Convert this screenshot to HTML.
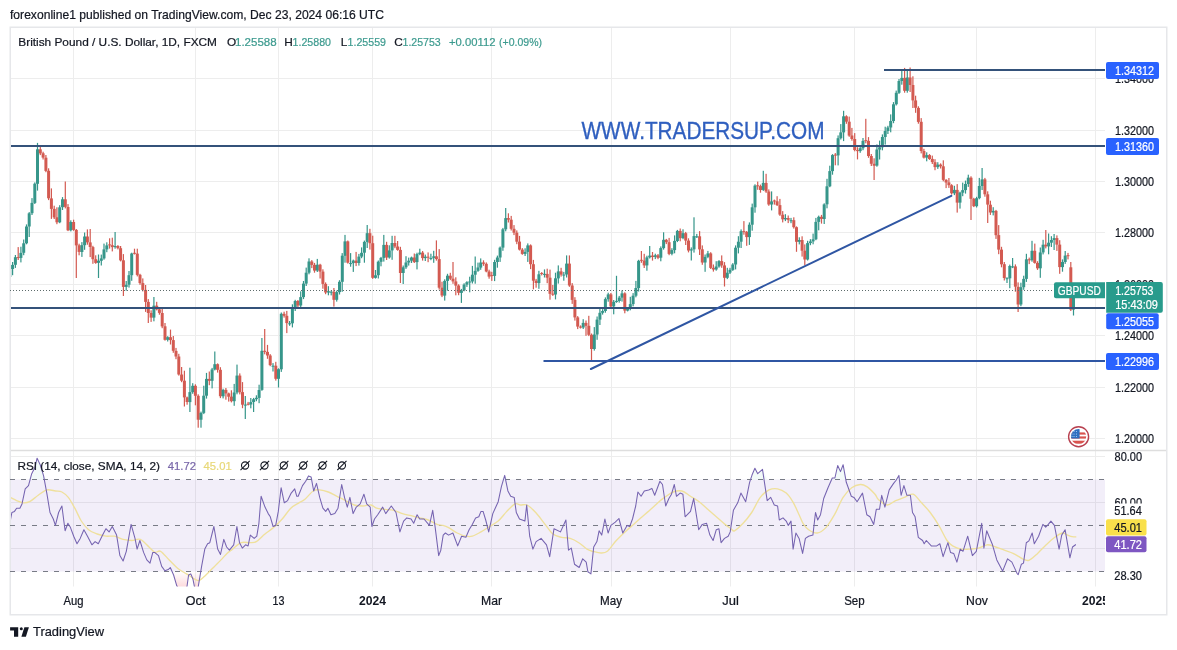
<!DOCTYPE html><html><head><meta charset="utf-8"><style>html,body{margin:0;padding:0;background:#fff;width:1177px;height:650px;overflow:hidden;position:relative}svg text{font-family:"Liberation Sans",sans-serif}</style></head><body><svg width="1177" height="650" viewBox="0 0 1177 650" style="position:absolute;left:0;top:0;filter:blur(0.3px)"><defs><clipPath id="cp"><rect x="11" y="28" width="1094" height="422"/></clipPath><clipPath id="cr"><rect x="11" y="451" width="1094" height="135.5"/></clipPath><linearGradient id="gos" x1="0" y1="0" x2="0" y2="1"><stop offset="0" stop-color="#f23645" stop-opacity="0"/><stop offset="1" stop-color="#f23645" stop-opacity="0.22"/></linearGradient><linearGradient id="gob" x1="0" y1="1" x2="0" y2="0"><stop offset="0" stop-color="#089981" stop-opacity="0"/><stop offset="1" stop-color="#089981" stop-opacity="0.12"/></linearGradient></defs><text x="10" y="18.5" font-size="12.6" fill="#131722" textLength="374" lengthAdjust="spacingAndGlyphs" stroke="#131722" stroke-width="0.22">forexonline1 published on TradingView.com, Dec 23, 2024 06:16 UTC</text><rect x="10.25" y="27.25" width="1156.5" height="587.5" fill="#fff" stroke="#e6e7ea" stroke-width="1.5"/><line x1="73.5" y1="28" x2="73.5" y2="586.5" stroke="#ededed" stroke-width="1"/><line x1="195.5" y1="28" x2="195.5" y2="586.5" stroke="#ededed" stroke-width="1"/><line x1="278.5" y1="28" x2="278.5" y2="586.5" stroke="#ededed" stroke-width="1"/><line x1="372.5" y1="28" x2="372.5" y2="586.5" stroke="#ededed" stroke-width="1"/><line x1="491.5" y1="28" x2="491.5" y2="586.5" stroke="#ededed" stroke-width="1"/><line x1="611.5" y1="28" x2="611.5" y2="586.5" stroke="#ededed" stroke-width="1"/><line x1="730.5" y1="28" x2="730.5" y2="586.5" stroke="#ededed" stroke-width="1"/><line x1="854.5" y1="28" x2="854.5" y2="586.5" stroke="#ededed" stroke-width="1"/><line x1="976.5" y1="28" x2="976.5" y2="586.5" stroke="#ededed" stroke-width="1"/><line x1="1095.5" y1="28" x2="1095.5" y2="586.5" stroke="#ededed" stroke-width="1"/><line x1="11" y1="78.5" x2="1105" y2="78.5" stroke="#ededed" stroke-width="1"/><line x1="11" y1="130.5" x2="1105" y2="130.5" stroke="#ededed" stroke-width="1"/><line x1="11" y1="181.5" x2="1105" y2="181.5" stroke="#ededed" stroke-width="1"/><line x1="11" y1="232.5" x2="1105" y2="232.5" stroke="#ededed" stroke-width="1"/><line x1="11" y1="284.5" x2="1105" y2="284.5" stroke="#ededed" stroke-width="1"/><line x1="11" y1="335.5" x2="1105" y2="335.5" stroke="#ededed" stroke-width="1"/><line x1="11" y1="387.5" x2="1105" y2="387.5" stroke="#ededed" stroke-width="1"/><line x1="11" y1="438.5" x2="1105" y2="438.5" stroke="#ededed" stroke-width="1"/><line x1="11" y1="450.5" x2="1166" y2="450.5" stroke="#dedede" stroke-width="1.5"/><g clip-path="url(#cp)"><rect x="9.2" y="263.1" width="1.2" height="20.9" fill="#36968a"/><rect x="8.3" y="269" width="3" height="8" fill="#36968a"/><rect x="12" y="262" width="1.2" height="13.2" fill="#36968a"/><rect x="11.1" y="264.9" width="3" height="4.1" fill="#36968a"/><rect x="14.8" y="255" width="1.2" height="12.9" fill="#36968a"/><rect x="13.9" y="257.2" width="3" height="7.6" fill="#36968a"/><rect x="17.6" y="247.1" width="1.2" height="12.9" fill="#d35a51"/><rect x="16.7" y="257.1" width="3" height="1" fill="#d35a51"/><rect x="20.3" y="246.7" width="1.2" height="15.7" fill="#36968a"/><rect x="19.4" y="252.9" width="3" height="5" fill="#36968a"/><rect x="23.1" y="239.5" width="1.2" height="15.7" fill="#36968a"/><rect x="22.2" y="243.3" width="3" height="9.5" fill="#36968a"/><rect x="25.9" y="224.4" width="1.2" height="19.9" fill="#36968a"/><rect x="25" y="226.5" width="3" height="16.8" fill="#36968a"/><rect x="28.6" y="212.1" width="1.2" height="24.9" fill="#36968a"/><rect x="27.7" y="213.3" width="3" height="13.2" fill="#36968a"/><rect x="31.4" y="198.1" width="1.2" height="16.9" fill="#36968a"/><rect x="30.5" y="202.9" width="3" height="10.3" fill="#36968a"/><rect x="34.2" y="182.4" width="1.2" height="21.6" fill="#36968a"/><rect x="33.3" y="183.7" width="3" height="19.2" fill="#36968a"/><rect x="36.9" y="142.9" width="1.2" height="47.7" fill="#36968a"/><rect x="36" y="149.3" width="3" height="34.5" fill="#36968a"/><rect x="39.7" y="145.1" width="1.2" height="10" fill="#d35a51"/><rect x="38.8" y="149.3" width="3" height="4.1" fill="#d35a51"/><rect x="42.5" y="151.7" width="1.2" height="7.8" fill="#d35a51"/><rect x="41.6" y="153.3" width="3" height="4.3" fill="#d35a51"/><rect x="45.3" y="155" width="1.2" height="17.2" fill="#d35a51"/><rect x="44.4" y="157.7" width="3" height="13.2" fill="#d35a51"/><rect x="48" y="168.3" width="1.2" height="31.8" fill="#d35a51"/><rect x="47.1" y="170.8" width="3" height="27.5" fill="#d35a51"/><rect x="50.8" y="188.4" width="1.2" height="30.5" fill="#d35a51"/><rect x="49.9" y="198.4" width="3" height="10.5" fill="#d35a51"/><rect x="53.6" y="205.7" width="1.2" height="13.3" fill="#d35a51"/><rect x="52.7" y="208.9" width="3" height="8.5" fill="#d35a51"/><rect x="56.3" y="207.3" width="1.2" height="16.9" fill="#d35a51"/><rect x="55.4" y="217.3" width="3" height="5" fill="#d35a51"/><rect x="59.1" y="205.2" width="1.2" height="18" fill="#36968a"/><rect x="58.2" y="207.3" width="3" height="15" fill="#36968a"/><rect x="61.9" y="197.1" width="1.2" height="12.9" fill="#36968a"/><rect x="61" y="199.3" width="3" height="7.9" fill="#36968a"/><rect x="64.7" y="181.5" width="1.2" height="26.9" fill="#d35a51"/><rect x="63.8" y="199.3" width="3" height="7.6" fill="#d35a51"/><rect x="67.4" y="204.1" width="1.2" height="27" fill="#d35a51"/><rect x="66.5" y="207" width="3" height="23.3" fill="#d35a51"/><rect x="70.2" y="220.3" width="1.2" height="11.1" fill="#36968a"/><rect x="69.3" y="222" width="3" height="8.3" fill="#36968a"/><rect x="73" y="219.7" width="1.2" height="11.1" fill="#d35a51"/><rect x="72.1" y="222" width="3" height="7.9" fill="#d35a51"/><rect x="75.7" y="229" width="1.2" height="49" fill="#d35a51"/><rect x="74.8" y="229.9" width="3" height="15.5" fill="#d35a51"/><rect x="78.5" y="243.7" width="1.2" height="11.6" fill="#d35a51"/><rect x="77.6" y="245.3" width="3" height="6.6" fill="#d35a51"/><rect x="81.3" y="242.1" width="1.2" height="14.8" fill="#36968a"/><rect x="80.4" y="245.2" width="3" height="6.8" fill="#36968a"/><rect x="84" y="232.5" width="1.2" height="17.3" fill="#36968a"/><rect x="83.1" y="236.5" width="3" height="8.7" fill="#36968a"/><rect x="86.8" y="229.4" width="1.2" height="15.3" fill="#d35a51"/><rect x="85.9" y="236.5" width="3" height="5.9" fill="#d35a51"/><rect x="89.6" y="229" width="1.2" height="28.1" fill="#d35a51"/><rect x="88.7" y="242.4" width="3" height="4.6" fill="#d35a51"/><rect x="92.3" y="245.8" width="1.2" height="18" fill="#d35a51"/><rect x="91.4" y="247.1" width="3" height="12.1" fill="#d35a51"/><rect x="95.1" y="255.3" width="1.2" height="8.5" fill="#d35a51"/><rect x="94.2" y="259.2" width="3" height="3.7" fill="#d35a51"/><rect x="97.9" y="254.5" width="1.2" height="23.5" fill="#36968a"/><rect x="97" y="260.7" width="3" height="2.1" fill="#36968a"/><rect x="100.7" y="254.6" width="1.2" height="10.9" fill="#36968a"/><rect x="99.8" y="258.4" width="3" height="2.4" fill="#36968a"/><rect x="103.4" y="243.6" width="1.2" height="16.1" fill="#36968a"/><rect x="102.5" y="249.4" width="3" height="9" fill="#36968a"/><rect x="106.2" y="242.3" width="1.2" height="9.9" fill="#36968a"/><rect x="105.3" y="245.4" width="3" height="4" fill="#36968a"/><rect x="109" y="238.3" width="1.2" height="10.3" fill="#d35a51"/><rect x="108.1" y="244.4" width="3" height="1" fill="#d35a51"/><rect x="111.7" y="237.7" width="1.2" height="13.7" fill="#d35a51"/><rect x="110.8" y="245.2" width="3" height="1.9" fill="#d35a51"/><rect x="114.5" y="232" width="1.2" height="16.7" fill="#36968a"/><rect x="113.6" y="246" width="3" height="1.1" fill="#36968a"/><rect x="117.3" y="245.1" width="1.2" height="4.3" fill="#d35a51"/><rect x="116.4" y="246" width="3" height="2.2" fill="#d35a51"/><rect x="120" y="246" width="1.2" height="15.4" fill="#d35a51"/><rect x="119.1" y="248.2" width="3" height="12.2" fill="#d35a51"/><rect x="122.8" y="254.1" width="1.2" height="41.9" fill="#d35a51"/><rect x="121.9" y="260.3" width="3" height="26.6" fill="#d35a51"/><rect x="125.6" y="281" width="1.2" height="9.7" fill="#36968a"/><rect x="124.7" y="284.8" width="3" height="2.1" fill="#36968a"/><rect x="128.4" y="271" width="1.2" height="16.6" fill="#36968a"/><rect x="127.5" y="275.2" width="3" height="9.5" fill="#36968a"/><rect x="131.1" y="252.7" width="1.2" height="28.1" fill="#36968a"/><rect x="130.2" y="253.5" width="3" height="21.7" fill="#36968a"/><rect x="133.9" y="248.7" width="1.2" height="5.8" fill="#d35a51"/><rect x="133" y="252.8" width="3" height="1" fill="#d35a51"/><rect x="136.7" y="248.7" width="1.2" height="27.7" fill="#d35a51"/><rect x="135.8" y="253.6" width="3" height="21.3" fill="#d35a51"/><rect x="139.4" y="273.8" width="1.2" height="11" fill="#d35a51"/><rect x="138.5" y="274.8" width="3" height="8.3" fill="#d35a51"/><rect x="142.2" y="278.4" width="1.2" height="13" fill="#d35a51"/><rect x="141.3" y="283.1" width="3" height="6.8" fill="#d35a51"/><rect x="145" y="285" width="1.2" height="26.9" fill="#d35a51"/><rect x="144.1" y="289.9" width="3" height="12" fill="#d35a51"/><rect x="147.7" y="299.1" width="1.2" height="23.9" fill="#d35a51"/><rect x="146.8" y="301.9" width="3" height="11.1" fill="#d35a51"/><rect x="150.5" y="310.3" width="1.2" height="11.6" fill="#d35a51"/><rect x="149.6" y="313" width="3" height="4.6" fill="#d35a51"/><rect x="153.3" y="297" width="1.2" height="24.3" fill="#36968a"/><rect x="152.4" y="305.7" width="3" height="11.9" fill="#36968a"/><rect x="156.1" y="301.8" width="1.2" height="8.6" fill="#d35a51"/><rect x="155.2" y="305.7" width="3" height="3.7" fill="#d35a51"/><rect x="158.8" y="308.1" width="1.2" height="6.6" fill="#d35a51"/><rect x="157.9" y="309.3" width="3" height="3.6" fill="#d35a51"/><rect x="161.6" y="308.1" width="1.2" height="20.1" fill="#d35a51"/><rect x="160.7" y="313" width="3" height="13.4" fill="#d35a51"/><rect x="164.4" y="323" width="1.2" height="17.6" fill="#d35a51"/><rect x="163.5" y="326.3" width="3" height="13.5" fill="#d35a51"/><rect x="167.1" y="336.2" width="1.2" height="5.3" fill="#36968a"/><rect x="166.2" y="337.2" width="3" height="2.6" fill="#36968a"/><rect x="169.9" y="329.6" width="1.2" height="14.9" fill="#d35a51"/><rect x="169" y="337.2" width="3" height="2.9" fill="#d35a51"/><rect x="172.7" y="336" width="1.2" height="16.8" fill="#d35a51"/><rect x="171.8" y="340.1" width="3" height="10.7" fill="#d35a51"/><rect x="175.4" y="347.9" width="1.2" height="11.3" fill="#d35a51"/><rect x="174.5" y="350.9" width="3" height="5.6" fill="#d35a51"/><rect x="178.2" y="353.8" width="1.2" height="21.8" fill="#d35a51"/><rect x="177.3" y="356.5" width="3" height="18" fill="#d35a51"/><rect x="181" y="367" width="1.2" height="15.2" fill="#d35a51"/><rect x="180.1" y="374.5" width="3" height="6.2" fill="#d35a51"/><rect x="183.8" y="370.7" width="1.2" height="35.8" fill="#d35a51"/><rect x="182.9" y="380.7" width="3" height="16.7" fill="#d35a51"/><rect x="186.5" y="396.6" width="1.2" height="8.1" fill="#d35a51"/><rect x="185.6" y="397.4" width="3" height="4.6" fill="#d35a51"/><rect x="189.3" y="367.7" width="1.2" height="44.3" fill="#36968a"/><rect x="188.4" y="392.1" width="3" height="10" fill="#36968a"/><rect x="192.1" y="383.2" width="1.2" height="10.6" fill="#36968a"/><rect x="191.2" y="385.8" width="3" height="6.3" fill="#36968a"/><rect x="194.8" y="384.3" width="1.2" height="21" fill="#d35a51"/><rect x="193.9" y="385.8" width="3" height="10" fill="#d35a51"/><rect x="197.6" y="394.3" width="1.2" height="33.4" fill="#d35a51"/><rect x="196.7" y="395.8" width="3" height="23.9" fill="#d35a51"/><rect x="200.4" y="411.6" width="1.2" height="16.1" fill="#36968a"/><rect x="199.5" y="412.9" width="3" height="6.8" fill="#36968a"/><rect x="203.2" y="385.7" width="1.2" height="28.4" fill="#36968a"/><rect x="202.2" y="395.7" width="3" height="17.2" fill="#36968a"/><rect x="205.9" y="372.9" width="1.2" height="25.7" fill="#36968a"/><rect x="205" y="378.9" width="3" height="16.8" fill="#36968a"/><rect x="208.7" y="371.5" width="1.2" height="13.7" fill="#d35a51"/><rect x="207.8" y="378.9" width="3" height="1.9" fill="#d35a51"/><rect x="211.5" y="367.9" width="1.2" height="20.5" fill="#36968a"/><rect x="210.6" y="369.5" width="3" height="11.3" fill="#36968a"/><rect x="214.2" y="351.5" width="1.2" height="18.9" fill="#36968a"/><rect x="213.3" y="364.2" width="3" height="5.3" fill="#36968a"/><rect x="217" y="363.4" width="1.2" height="9.2" fill="#d35a51"/><rect x="216.1" y="364.2" width="3" height="5.6" fill="#d35a51"/><rect x="219.8" y="367.2" width="1.2" height="30.9" fill="#d35a51"/><rect x="218.9" y="369.8" width="3" height="26.4" fill="#d35a51"/><rect x="222.5" y="388.7" width="1.2" height="9.7" fill="#36968a"/><rect x="221.6" y="389.9" width="3" height="6.4" fill="#36968a"/><rect x="225.3" y="388" width="1.2" height="11.7" fill="#d35a51"/><rect x="224.4" y="389.9" width="3" height="3.5" fill="#d35a51"/><rect x="228.1" y="392.6" width="1.2" height="9" fill="#d35a51"/><rect x="227.2" y="393.4" width="3" height="3.3" fill="#d35a51"/><rect x="230.8" y="390.3" width="1.2" height="12.1" fill="#d35a51"/><rect x="229.9" y="396.6" width="3" height="4.6" fill="#d35a51"/><rect x="233.6" y="383.9" width="1.2" height="21.9" fill="#36968a"/><rect x="232.7" y="392.5" width="3" height="8.7" fill="#36968a"/><rect x="236.4" y="364.6" width="1.2" height="29.7" fill="#36968a"/><rect x="235.5" y="375.6" width="3" height="16.9" fill="#36968a"/><rect x="239.2" y="373.4" width="1.2" height="21" fill="#d35a51"/><rect x="238.3" y="375.6" width="3" height="16.6" fill="#d35a51"/><rect x="241.9" y="382.1" width="1.2" height="26.1" fill="#d35a51"/><rect x="241" y="392.1" width="3" height="12.6" fill="#d35a51"/><rect x="244.7" y="396" width="1.2" height="23" fill="#36968a"/><rect x="243.8" y="404.6" width="3" height="1" fill="#36968a"/><rect x="247.5" y="401.9" width="1.2" height="3.5" fill="#d35a51"/><rect x="246.6" y="403.7" width="3" height="1" fill="#d35a51"/><rect x="250.2" y="398" width="1.2" height="10.3" fill="#36968a"/><rect x="249.3" y="402.1" width="3" height="2.4" fill="#36968a"/><rect x="253" y="397.9" width="1.2" height="14.1" fill="#36968a"/><rect x="252.1" y="399.2" width="3" height="2.8" fill="#36968a"/><rect x="255.8" y="395.3" width="1.2" height="5.9" fill="#36968a"/><rect x="254.9" y="397.8" width="3" height="1.4" fill="#36968a"/><rect x="258.5" y="384.7" width="1.2" height="18.5" fill="#36968a"/><rect x="257.6" y="390" width="3" height="7.9" fill="#36968a"/><rect x="261.3" y="338" width="1.2" height="52.8" fill="#36968a"/><rect x="260.4" y="350.8" width="3" height="39.1" fill="#36968a"/><rect x="264.1" y="329" width="1.2" height="25.3" fill="#d35a51"/><rect x="263.2" y="350.8" width="3" height="1.1" fill="#d35a51"/><rect x="266.9" y="344.9" width="1.2" height="13.9" fill="#d35a51"/><rect x="266" y="351.9" width="3" height="3.6" fill="#d35a51"/><rect x="269.6" y="354.1" width="1.2" height="12.1" fill="#d35a51"/><rect x="268.7" y="355.5" width="3" height="9.6" fill="#d35a51"/><rect x="272.4" y="363.1" width="1.2" height="8.4" fill="#36968a"/><rect x="271.5" y="365.7" width="3" height="1" fill="#36968a"/><rect x="275.2" y="361.8" width="1.2" height="18.8" fill="#d35a51"/><rect x="274.3" y="365.7" width="3" height="13.1" fill="#d35a51"/><rect x="277.9" y="368.3" width="1.2" height="19.2" fill="#36968a"/><rect x="277" y="369.2" width="3" height="9.6" fill="#36968a"/><rect x="280.7" y="312.5" width="1.2" height="59.4" fill="#36968a"/><rect x="279.8" y="313.8" width="3" height="55.5" fill="#36968a"/><rect x="283.5" y="311.7" width="1.2" height="5.9" fill="#d35a51"/><rect x="282.6" y="313.8" width="3" height="2" fill="#d35a51"/><rect x="286.2" y="310.9" width="1.2" height="22.2" fill="#d35a51"/><rect x="285.3" y="315.8" width="3" height="7.3" fill="#d35a51"/><rect x="289" y="321" width="1.2" height="4.8" fill="#36968a"/><rect x="288.1" y="323.3" width="3" height="1" fill="#36968a"/><rect x="291.8" y="304.3" width="1.2" height="23.1" fill="#36968a"/><rect x="290.9" y="307.1" width="3" height="16.2" fill="#36968a"/><rect x="294.6" y="299.8" width="1.2" height="11.2" fill="#36968a"/><rect x="293.7" y="301" width="3" height="6.1" fill="#36968a"/><rect x="297.3" y="300" width="1.2" height="8.4" fill="#d35a51"/><rect x="296.4" y="301" width="3" height="4.5" fill="#d35a51"/><rect x="300.1" y="291.3" width="1.2" height="17.4" fill="#36968a"/><rect x="299.2" y="297.1" width="3" height="8.4" fill="#36968a"/><rect x="302.9" y="281" width="1.2" height="18.1" fill="#36968a"/><rect x="302" y="283.6" width="3" height="13.5" fill="#36968a"/><rect x="305.6" y="267.6" width="1.2" height="18.4" fill="#36968a"/><rect x="304.7" y="272.7" width="3" height="10.9" fill="#36968a"/><rect x="308.4" y="258.3" width="1.2" height="16" fill="#36968a"/><rect x="307.5" y="261.5" width="3" height="11.2" fill="#36968a"/><rect x="311.2" y="260.1" width="1.2" height="8" fill="#d35a51"/><rect x="310.3" y="261.5" width="3" height="3.4" fill="#d35a51"/><rect x="313.9" y="262.9" width="1.2" height="9.8" fill="#d35a51"/><rect x="313" y="264.9" width="3" height="5.7" fill="#d35a51"/><rect x="316.7" y="258.9" width="1.2" height="13.1" fill="#36968a"/><rect x="315.8" y="264.7" width="3" height="5.9" fill="#36968a"/><rect x="319.5" y="263.8" width="1.2" height="14.7" fill="#d35a51"/><rect x="318.6" y="264.7" width="3" height="6.9" fill="#d35a51"/><rect x="322.3" y="269.3" width="1.2" height="19.4" fill="#d35a51"/><rect x="321.4" y="271.6" width="3" height="12.3" fill="#d35a51"/><rect x="325" y="282.4" width="1.2" height="11.8" fill="#d35a51"/><rect x="324.1" y="283.9" width="3" height="8.6" fill="#d35a51"/><rect x="327.8" y="286.2" width="1.2" height="9.1" fill="#36968a"/><rect x="326.9" y="291.2" width="3" height="1.3" fill="#36968a"/><rect x="330.6" y="290.5" width="1.2" height="4.9" fill="#36968a"/><rect x="329.7" y="291.7" width="3" height="1" fill="#36968a"/><rect x="333.3" y="288" width="1.2" height="18.6" fill="#d35a51"/><rect x="332.4" y="291.7" width="3" height="8.1" fill="#d35a51"/><rect x="336.1" y="290.6" width="1.2" height="11" fill="#36968a"/><rect x="335.2" y="292.1" width="3" height="7.7" fill="#36968a"/><rect x="338.9" y="280.2" width="1.2" height="14.3" fill="#36968a"/><rect x="338" y="281.8" width="3" height="10.3" fill="#36968a"/><rect x="341.6" y="253.1" width="1.2" height="38.7" fill="#36968a"/><rect x="340.8" y="255.7" width="3" height="26.1" fill="#36968a"/><rect x="344.4" y="234.9" width="1.2" height="27.8" fill="#36968a"/><rect x="343.5" y="241.4" width="3" height="14.4" fill="#36968a"/><rect x="347.2" y="240.5" width="1.2" height="23.1" fill="#d35a51"/><rect x="346.3" y="241.4" width="3" height="21.3" fill="#d35a51"/><rect x="350" y="253.1" width="1.2" height="13.6" fill="#36968a"/><rect x="349.1" y="263.1" width="3" height="1" fill="#36968a"/><rect x="352.7" y="259.6" width="1.2" height="12.3" fill="#36968a"/><rect x="351.8" y="260.6" width="3" height="2.5" fill="#36968a"/><rect x="355.5" y="251.9" width="1.2" height="14.2" fill="#d35a51"/><rect x="354.6" y="260.6" width="3" height="2.4" fill="#d35a51"/><rect x="358.3" y="253.9" width="1.2" height="11.7" fill="#36968a"/><rect x="357.4" y="256.6" width="3" height="6.4" fill="#36968a"/><rect x="361" y="247.4" width="1.2" height="10.8" fill="#36968a"/><rect x="360.1" y="252.8" width="3" height="3.8" fill="#36968a"/><rect x="363.8" y="240.6" width="1.2" height="22.1" fill="#36968a"/><rect x="362.9" y="241.9" width="3" height="10.8" fill="#36968a"/><rect x="366.6" y="225" width="1.2" height="23" fill="#36968a"/><rect x="365.7" y="233.2" width="3" height="8.7" fill="#36968a"/><rect x="369.3" y="228.8" width="1.2" height="20.8" fill="#d35a51"/><rect x="368.4" y="233.2" width="3" height="10" fill="#d35a51"/><rect x="372.1" y="235.7" width="1.2" height="43.2" fill="#d35a51"/><rect x="371.2" y="243.2" width="3" height="34.6" fill="#d35a51"/><rect x="374.9" y="270" width="1.2" height="8.6" fill="#36968a"/><rect x="374" y="275.3" width="3" height="2.5" fill="#36968a"/><rect x="377.7" y="260.5" width="1.2" height="18" fill="#36968a"/><rect x="376.8" y="261.7" width="3" height="13.5" fill="#36968a"/><rect x="380.4" y="256.9" width="1.2" height="9.4" fill="#36968a"/><rect x="379.5" y="257.9" width="3" height="3.9" fill="#36968a"/><rect x="383.2" y="234.9" width="1.2" height="26.7" fill="#36968a"/><rect x="382.3" y="244.9" width="3" height="13" fill="#36968a"/><rect x="386" y="241.8" width="1.2" height="18.2" fill="#d35a51"/><rect x="385.1" y="244.9" width="3" height="12.6" fill="#d35a51"/><rect x="388.7" y="245.3" width="1.2" height="13.3" fill="#36968a"/><rect x="387.8" y="250.4" width="3" height="7.1" fill="#36968a"/><rect x="391.5" y="235.8" width="1.2" height="24" fill="#36968a"/><rect x="390.6" y="243" width="3" height="7.4" fill="#36968a"/><rect x="394.3" y="235.8" width="1.2" height="12.4" fill="#d35a51"/><rect x="393.4" y="243" width="3" height="3.5" fill="#d35a51"/><rect x="397" y="241" width="1.2" height="9.7" fill="#d35a51"/><rect x="396.1" y="246.5" width="3" height="3.4" fill="#d35a51"/><rect x="399.8" y="246.8" width="1.2" height="36.2" fill="#d35a51"/><rect x="398.9" y="249.9" width="3" height="23.1" fill="#d35a51"/><rect x="402.6" y="265.5" width="1.2" height="18.5" fill="#36968a"/><rect x="401.7" y="267.3" width="3" height="5.7" fill="#36968a"/><rect x="405.4" y="256.2" width="1.2" height="12.7" fill="#36968a"/><rect x="404.5" y="262.5" width="3" height="4.8" fill="#36968a"/><rect x="408.1" y="257.6" width="1.2" height="8" fill="#36968a"/><rect x="407.2" y="260.7" width="3" height="1.8" fill="#36968a"/><rect x="410.9" y="256.6" width="1.2" height="6.4" fill="#36968a"/><rect x="410" y="257.5" width="3" height="3.2" fill="#36968a"/><rect x="413.7" y="253.5" width="1.2" height="9.5" fill="#d35a51"/><rect x="412.8" y="257.5" width="3" height="4.6" fill="#d35a51"/><rect x="416.4" y="252.7" width="1.2" height="16.7" fill="#36968a"/><rect x="415.5" y="254.1" width="3" height="8" fill="#36968a"/><rect x="419.2" y="248.7" width="1.2" height="6.5" fill="#36968a"/><rect x="418.3" y="252.6" width="3" height="1.5" fill="#36968a"/><rect x="422" y="251" width="1.2" height="9.6" fill="#d35a51"/><rect x="421.1" y="252.6" width="3" height="5.5" fill="#d35a51"/><rect x="424.7" y="254.6" width="1.2" height="6.4" fill="#36968a"/><rect x="423.8" y="256.7" width="3" height="1.4" fill="#36968a"/><rect x="427.5" y="252.4" width="1.2" height="9.8" fill="#d35a51"/><rect x="426.6" y="256.7" width="3" height="1" fill="#d35a51"/><rect x="430.3" y="253.7" width="1.2" height="6.5" fill="#36968a"/><rect x="429.4" y="258" width="3" height="1" fill="#36968a"/><rect x="433.1" y="250.8" width="1.2" height="12" fill="#36968a"/><rect x="432.2" y="256.3" width="3" height="1.6" fill="#36968a"/><rect x="435.8" y="240.4" width="1.2" height="20.2" fill="#d35a51"/><rect x="434.9" y="256.3" width="3" height="2.7" fill="#d35a51"/><rect x="438.6" y="249.1" width="1.2" height="40.5" fill="#d35a51"/><rect x="437.7" y="259.1" width="3" height="28.6" fill="#d35a51"/><rect x="441.4" y="281.7" width="1.2" height="15.4" fill="#d35a51"/><rect x="440.5" y="287.7" width="3" height="7.8" fill="#d35a51"/><rect x="444.1" y="279.3" width="1.2" height="21.3" fill="#36968a"/><rect x="443.2" y="280.9" width="3" height="14.7" fill="#36968a"/><rect x="446.9" y="273.8" width="1.2" height="16.9" fill="#36968a"/><rect x="446" y="275.7" width="3" height="5.2" fill="#36968a"/><rect x="449.7" y="272.8" width="1.2" height="7.3" fill="#d35a51"/><rect x="448.8" y="275.7" width="3" height="3" fill="#d35a51"/><rect x="452.4" y="262" width="1.2" height="21.8" fill="#d35a51"/><rect x="451.5" y="278.7" width="3" height="2.7" fill="#d35a51"/><rect x="455.2" y="277.3" width="1.2" height="18" fill="#d35a51"/><rect x="454.3" y="281.4" width="3" height="4.2" fill="#d35a51"/><rect x="458" y="284.3" width="1.2" height="10.9" fill="#d35a51"/><rect x="457.1" y="285.5" width="3" height="7.3" fill="#d35a51"/><rect x="460.8" y="288.9" width="1.2" height="14" fill="#36968a"/><rect x="459.9" y="290.4" width="3" height="2.5" fill="#36968a"/><rect x="463.5" y="283.3" width="1.2" height="8" fill="#36968a"/><rect x="462.6" y="284.6" width="3" height="5.8" fill="#36968a"/><rect x="466.3" y="281.2" width="1.2" height="5.7" fill="#36968a"/><rect x="465.4" y="282.2" width="3" height="2.4" fill="#36968a"/><rect x="469.1" y="276.7" width="1.2" height="15.6" fill="#36968a"/><rect x="468.2" y="281.5" width="3" height="1" fill="#36968a"/><rect x="471.8" y="265.9" width="1.2" height="17.6" fill="#36968a"/><rect x="470.9" y="274.7" width="3" height="6.8" fill="#36968a"/><rect x="474.6" y="256.5" width="1.2" height="27.2" fill="#36968a"/><rect x="473.7" y="270.9" width="3" height="3.8" fill="#36968a"/><rect x="477.4" y="262.6" width="1.2" height="9.2" fill="#36968a"/><rect x="476.5" y="267.5" width="3" height="3.3" fill="#36968a"/><rect x="480.1" y="258.4" width="1.2" height="11.4" fill="#36968a"/><rect x="479.2" y="262.5" width="3" height="5.1" fill="#36968a"/><rect x="482.9" y="260.3" width="1.2" height="5.5" fill="#d35a51"/><rect x="482" y="262.5" width="3" height="1.3" fill="#d35a51"/><rect x="485.7" y="262.4" width="1.2" height="9.9" fill="#d35a51"/><rect x="484.8" y="263.8" width="3" height="7.7" fill="#d35a51"/><rect x="488.5" y="269.7" width="1.2" height="9" fill="#d35a51"/><rect x="487.6" y="271.5" width="3" height="5.1" fill="#d35a51"/><rect x="491.2" y="271.8" width="1.2" height="9.1" fill="#d35a51"/><rect x="490.3" y="275.1" width="3" height="1" fill="#d35a51"/><rect x="494" y="259.8" width="1.2" height="21.3" fill="#36968a"/><rect x="493.1" y="262" width="3" height="13.9" fill="#36968a"/><rect x="496.8" y="255.6" width="1.2" height="12.1" fill="#36968a"/><rect x="495.9" y="257.5" width="3" height="4.5" fill="#36968a"/><rect x="499.5" y="246.5" width="1.2" height="15.4" fill="#36968a"/><rect x="498.6" y="247.6" width="3" height="9.9" fill="#36968a"/><rect x="502.3" y="227.9" width="1.2" height="22.9" fill="#36968a"/><rect x="501.4" y="229.3" width="3" height="18.3" fill="#36968a"/><rect x="505.1" y="208" width="1.2" height="23.3" fill="#36968a"/><rect x="504.2" y="218.1" width="3" height="11.2" fill="#36968a"/><rect x="507.8" y="213.3" width="1.2" height="9.2" fill="#d35a51"/><rect x="506.9" y="218.1" width="3" height="1.6" fill="#d35a51"/><rect x="510.6" y="215.9" width="1.2" height="14.6" fill="#d35a51"/><rect x="509.7" y="219.7" width="3" height="9.1" fill="#d35a51"/><rect x="513.4" y="225.1" width="1.2" height="10" fill="#d35a51"/><rect x="512.5" y="228.8" width="3" height="3.9" fill="#d35a51"/><rect x="516.2" y="230.4" width="1.2" height="13.8" fill="#d35a51"/><rect x="515.3" y="232.7" width="3" height="9" fill="#d35a51"/><rect x="518.9" y="235.9" width="1.2" height="14.6" fill="#d35a51"/><rect x="518" y="241.6" width="3" height="8" fill="#d35a51"/><rect x="521.7" y="248.1" width="1.2" height="6.7" fill="#d35a51"/><rect x="520.8" y="249.6" width="3" height="4.3" fill="#d35a51"/><rect x="524.5" y="248.3" width="1.2" height="7.7" fill="#36968a"/><rect x="523.6" y="251.9" width="3" height="2" fill="#36968a"/><rect x="527.2" y="243.4" width="1.2" height="18.5" fill="#36968a"/><rect x="526.3" y="245.4" width="3" height="6.5" fill="#36968a"/><rect x="530" y="244.4" width="1.2" height="24.7" fill="#d35a51"/><rect x="529.1" y="245.4" width="3" height="18.8" fill="#d35a51"/><rect x="532.8" y="259.9" width="1.2" height="29.4" fill="#d35a51"/><rect x="531.9" y="264.2" width="3" height="16.5" fill="#d35a51"/><rect x="535.5" y="278.9" width="1.2" height="8.8" fill="#d35a51"/><rect x="534.6" y="280.7" width="3" height="2.3" fill="#d35a51"/><rect x="538.3" y="270.8" width="1.2" height="18" fill="#36968a"/><rect x="537.4" y="274.3" width="3" height="8.8" fill="#36968a"/><rect x="541.1" y="272.1" width="1.2" height="3.3" fill="#d35a51"/><rect x="540.2" y="273" width="3" height="1" fill="#d35a51"/><rect x="543.9" y="269.4" width="1.2" height="8.1" fill="#36968a"/><rect x="543" y="273.9" width="3" height="1" fill="#36968a"/><rect x="546.6" y="268.7" width="1.2" height="14.5" fill="#d35a51"/><rect x="545.7" y="273.9" width="3" height="3.8" fill="#d35a51"/><rect x="549.4" y="269.6" width="1.2" height="30.1" fill="#d35a51"/><rect x="548.5" y="277.7" width="3" height="16.1" fill="#d35a51"/><rect x="552.2" y="285" width="1.2" height="10.9" fill="#d35a51"/><rect x="551.3" y="293.7" width="3" height="1" fill="#d35a51"/><rect x="554.9" y="272.7" width="1.2" height="26.7" fill="#36968a"/><rect x="554" y="278.3" width="3" height="16.2" fill="#36968a"/><rect x="557.7" y="265.4" width="1.2" height="18.2" fill="#36968a"/><rect x="556.8" y="271.4" width="3" height="7" fill="#36968a"/><rect x="560.5" y="267.8" width="1.2" height="8.8" fill="#d35a51"/><rect x="559.6" y="271.4" width="3" height="3.2" fill="#d35a51"/><rect x="563.2" y="271.9" width="1.2" height="8.8" fill="#36968a"/><rect x="562.3" y="274.6" width="3" height="1" fill="#36968a"/><rect x="566" y="255.4" width="1.2" height="22.1" fill="#36968a"/><rect x="565.1" y="263.6" width="3" height="10.9" fill="#36968a"/><rect x="568.8" y="255.4" width="1.2" height="31.4" fill="#d35a51"/><rect x="567.9" y="263.6" width="3" height="21.9" fill="#d35a51"/><rect x="571.6" y="283.1" width="1.2" height="20.8" fill="#d35a51"/><rect x="570.7" y="285.5" width="3" height="14.4" fill="#d35a51"/><rect x="574.3" y="297.2" width="1.2" height="23.4" fill="#d35a51"/><rect x="573.4" y="299.9" width="3" height="17.5" fill="#d35a51"/><rect x="577.1" y="316.1" width="1.2" height="13" fill="#d35a51"/><rect x="576.2" y="317.4" width="3" height="9.2" fill="#d35a51"/><rect x="579.9" y="325.4" width="1.2" height="3.1" fill="#d35a51"/><rect x="579" y="326.6" width="3" height="1" fill="#d35a51"/><rect x="582.6" y="319.2" width="1.2" height="9.8" fill="#36968a"/><rect x="581.7" y="322.9" width="3" height="4.6" fill="#36968a"/><rect x="585.4" y="320.5" width="1.2" height="15.3" fill="#d35a51"/><rect x="584.5" y="322.9" width="3" height="2.9" fill="#d35a51"/><rect x="588.2" y="315.8" width="1.2" height="20.3" fill="#d35a51"/><rect x="587.3" y="325.8" width="3" height="9" fill="#d35a51"/><rect x="590.9" y="333.5" width="1.2" height="26.5" fill="#d35a51"/><rect x="590" y="334.8" width="3" height="14.2" fill="#d35a51"/><rect x="593.7" y="327.1" width="1.2" height="23.5" fill="#36968a"/><rect x="592.8" y="334.5" width="3" height="14.5" fill="#36968a"/><rect x="596.5" y="316.5" width="1.2" height="23.3" fill="#36968a"/><rect x="595.6" y="319.6" width="3" height="14.9" fill="#36968a"/><rect x="599.3" y="307.8" width="1.2" height="17.2" fill="#36968a"/><rect x="598.4" y="312.8" width="3" height="6.8" fill="#36968a"/><rect x="602" y="309.2" width="1.2" height="5.4" fill="#36968a"/><rect x="601.1" y="311" width="3" height="1.8" fill="#36968a"/><rect x="604.8" y="297.4" width="1.2" height="15.3" fill="#36968a"/><rect x="603.9" y="299.1" width="3" height="11.9" fill="#36968a"/><rect x="607.6" y="292.7" width="1.2" height="9" fill="#36968a"/><rect x="606.7" y="294.4" width="3" height="4.8" fill="#36968a"/><rect x="610.3" y="293" width="1.2" height="15.1" fill="#d35a51"/><rect x="609.4" y="294.4" width="3" height="12" fill="#d35a51"/><rect x="613.1" y="300" width="1.2" height="14.3" fill="#36968a"/><rect x="612.2" y="301.8" width="3" height="4.6" fill="#36968a"/><rect x="615.9" y="275.8" width="1.2" height="27" fill="#36968a"/><rect x="615" y="300.9" width="3" height="1" fill="#36968a"/><rect x="618.6" y="295.9" width="1.2" height="6.7" fill="#36968a"/><rect x="617.8" y="297.6" width="3" height="3.4" fill="#36968a"/><rect x="621.4" y="290.4" width="1.2" height="11.2" fill="#36968a"/><rect x="620.5" y="293.4" width="3" height="4.2" fill="#36968a"/><rect x="624.2" y="292.3" width="1.2" height="21" fill="#d35a51"/><rect x="623.3" y="293.4" width="3" height="17.2" fill="#d35a51"/><rect x="627" y="307.9" width="1.2" height="3.5" fill="#36968a"/><rect x="626.1" y="308.8" width="3" height="1.8" fill="#36968a"/><rect x="629.7" y="296.8" width="1.2" height="13.5" fill="#36968a"/><rect x="628.8" y="304.1" width="3" height="4.7" fill="#36968a"/><rect x="632.5" y="293.1" width="1.2" height="13.2" fill="#36968a"/><rect x="631.6" y="295.7" width="3" height="8.4" fill="#36968a"/><rect x="635.3" y="280.9" width="1.2" height="16.4" fill="#36968a"/><rect x="634.4" y="288" width="3" height="7.7" fill="#36968a"/><rect x="638" y="259.8" width="1.2" height="31.7" fill="#36968a"/><rect x="637.1" y="260.8" width="3" height="27.2" fill="#36968a"/><rect x="640.8" y="251" width="1.2" height="11.8" fill="#d35a51"/><rect x="639.9" y="259.8" width="3" height="1" fill="#d35a51"/><rect x="643.6" y="253.8" width="1.2" height="14.2" fill="#d35a51"/><rect x="642.7" y="260.6" width="3" height="4.8" fill="#d35a51"/><rect x="646.3" y="255.7" width="1.2" height="15" fill="#36968a"/><rect x="645.4" y="257.4" width="3" height="8" fill="#36968a"/><rect x="649.1" y="246" width="1.2" height="12.5" fill="#36968a"/><rect x="648.2" y="255.6" width="3" height="1.8" fill="#36968a"/><rect x="651.9" y="252" width="1.2" height="8.6" fill="#d35a51"/><rect x="651" y="255.6" width="3" height="1.4" fill="#d35a51"/><rect x="654.7" y="253.7" width="1.2" height="5.4" fill="#36968a"/><rect x="653.8" y="255.3" width="3" height="1.6" fill="#36968a"/><rect x="657.4" y="254" width="1.2" height="5.2" fill="#d35a51"/><rect x="656.5" y="255.3" width="3" height="2.5" fill="#d35a51"/><rect x="660.2" y="246.4" width="1.2" height="14.9" fill="#36968a"/><rect x="659.3" y="248.1" width="3" height="9.6" fill="#36968a"/><rect x="663" y="232.3" width="1.2" height="17.3" fill="#36968a"/><rect x="662.1" y="239.8" width="3" height="8.3" fill="#36968a"/><rect x="665.7" y="238.9" width="1.2" height="5.2" fill="#d35a51"/><rect x="664.8" y="239.8" width="3" height="2.4" fill="#d35a51"/><rect x="668.5" y="237.9" width="1.2" height="17.3" fill="#d35a51"/><rect x="667.6" y="242.2" width="3" height="11.7" fill="#d35a51"/><rect x="671.3" y="248.2" width="1.2" height="7.1" fill="#36968a"/><rect x="670.4" y="250.1" width="3" height="3.7" fill="#36968a"/><rect x="674" y="235.4" width="1.2" height="17.9" fill="#36968a"/><rect x="673.1" y="240.9" width="3" height="9.2" fill="#36968a"/><rect x="676.8" y="229.9" width="1.2" height="12.2" fill="#36968a"/><rect x="675.9" y="230.9" width="3" height="10.1" fill="#36968a"/><rect x="679.6" y="228.5" width="1.2" height="12.8" fill="#d35a51"/><rect x="678.7" y="230.9" width="3" height="7.3" fill="#d35a51"/><rect x="682.4" y="229.3" width="1.2" height="9.9" fill="#36968a"/><rect x="681.5" y="233.2" width="3" height="4.9" fill="#36968a"/><rect x="685.1" y="231.9" width="1.2" height="13.1" fill="#d35a51"/><rect x="684.2" y="233.2" width="3" height="7.4" fill="#d35a51"/><rect x="687.9" y="238.3" width="1.2" height="14.1" fill="#d35a51"/><rect x="687" y="240.6" width="3" height="9.9" fill="#d35a51"/><rect x="690.7" y="247.4" width="1.2" height="13.1" fill="#36968a"/><rect x="689.8" y="249.3" width="3" height="1.2" fill="#36968a"/><rect x="693.4" y="217.3" width="1.2" height="35.3" fill="#36968a"/><rect x="692.5" y="236.1" width="3" height="13.2" fill="#36968a"/><rect x="696.2" y="233.9" width="1.2" height="4.1" fill="#36968a"/><rect x="695.3" y="236.3" width="3" height="1" fill="#36968a"/><rect x="699" y="231.1" width="1.2" height="23.9" fill="#d35a51"/><rect x="698.1" y="236.3" width="3" height="13.1" fill="#d35a51"/><rect x="701.7" y="245.4" width="1.2" height="19.4" fill="#d35a51"/><rect x="700.8" y="249.3" width="3" height="13.2" fill="#d35a51"/><rect x="704.5" y="254.5" width="1.2" height="17.3" fill="#36968a"/><rect x="703.6" y="256.9" width="3" height="5.6" fill="#36968a"/><rect x="707.3" y="250.9" width="1.2" height="7.3" fill="#36968a"/><rect x="706.4" y="253.4" width="3" height="3.5" fill="#36968a"/><rect x="710.1" y="252.2" width="1.2" height="16.8" fill="#d35a51"/><rect x="709.2" y="253.4" width="3" height="14.5" fill="#d35a51"/><rect x="712.8" y="264.5" width="1.2" height="7.1" fill="#d35a51"/><rect x="711.9" y="267.9" width="3" height="1.6" fill="#d35a51"/><rect x="715.6" y="261.2" width="1.2" height="9.5" fill="#36968a"/><rect x="714.7" y="266.5" width="3" height="3" fill="#36968a"/><rect x="718.4" y="260.1" width="1.2" height="7.6" fill="#36968a"/><rect x="717.5" y="261.1" width="3" height="5.4" fill="#36968a"/><rect x="721.1" y="255.4" width="1.2" height="12.4" fill="#d35a51"/><rect x="720.2" y="261.1" width="3" height="4.3" fill="#d35a51"/><rect x="723.9" y="262.1" width="1.2" height="24.4" fill="#d35a51"/><rect x="723" y="265.4" width="3" height="12.4" fill="#d35a51"/><rect x="726.7" y="267.8" width="1.2" height="11.3" fill="#36968a"/><rect x="725.8" y="272.7" width="3" height="5.1" fill="#36968a"/><rect x="729.4" y="267.8" width="1.2" height="6.2" fill="#36968a"/><rect x="728.5" y="269.8" width="3" height="2.8" fill="#36968a"/><rect x="732.2" y="263.1" width="1.2" height="7.8" fill="#36968a"/><rect x="731.3" y="264.5" width="3" height="5.4" fill="#36968a"/><rect x="735" y="245.4" width="1.2" height="24" fill="#36968a"/><rect x="734.1" y="247.7" width="3" height="16.8" fill="#36968a"/><rect x="737.8" y="236.2" width="1.2" height="17.2" fill="#36968a"/><rect x="736.9" y="241.7" width="3" height="6" fill="#36968a"/><rect x="740.5" y="229.4" width="1.2" height="18.6" fill="#36968a"/><rect x="739.6" y="231.2" width="3" height="10.5" fill="#36968a"/><rect x="743.3" y="221.1" width="1.2" height="13.6" fill="#d35a51"/><rect x="742.4" y="231.1" width="3" height="1" fill="#d35a51"/><rect x="746.1" y="231" width="1.2" height="14.8" fill="#d35a51"/><rect x="745.2" y="231.9" width="3" height="5.2" fill="#d35a51"/><rect x="748.8" y="222.4" width="1.2" height="22.5" fill="#36968a"/><rect x="747.9" y="224.7" width="3" height="12.4" fill="#36968a"/><rect x="751.6" y="203.6" width="1.2" height="27.1" fill="#36968a"/><rect x="750.7" y="207.3" width="3" height="17.4" fill="#36968a"/><rect x="754.4" y="184.3" width="1.2" height="28.4" fill="#36968a"/><rect x="753.5" y="185.6" width="3" height="21.7" fill="#36968a"/><rect x="757.1" y="181.6" width="1.2" height="8.2" fill="#d35a51"/><rect x="756.2" y="185.3" width="3" height="1" fill="#d35a51"/><rect x="759.9" y="184.6" width="1.2" height="8.1" fill="#d35a51"/><rect x="759" y="186.1" width="3" height="3.9" fill="#d35a51"/><rect x="762.7" y="170.8" width="1.2" height="20.1" fill="#36968a"/><rect x="761.8" y="182.9" width="3" height="7" fill="#36968a"/><rect x="765.5" y="173.8" width="1.2" height="19.1" fill="#d35a51"/><rect x="764.6" y="182.9" width="3" height="8.6" fill="#d35a51"/><rect x="768.2" y="189.4" width="1.2" height="16.4" fill="#d35a51"/><rect x="767.3" y="191.5" width="3" height="13" fill="#d35a51"/><rect x="771" y="191.4" width="1.2" height="19" fill="#36968a"/><rect x="770.1" y="201.4" width="3" height="3.1" fill="#36968a"/><rect x="773.8" y="199.6" width="1.2" height="5" fill="#d35a51"/><rect x="772.9" y="200.5" width="3" height="1" fill="#d35a51"/><rect x="776.5" y="196.2" width="1.2" height="9.8" fill="#d35a51"/><rect x="775.6" y="201.3" width="3" height="3.8" fill="#d35a51"/><rect x="779.3" y="198.9" width="1.2" height="17" fill="#d35a51"/><rect x="778.4" y="205.1" width="3" height="9.5" fill="#d35a51"/><rect x="782.1" y="211.1" width="1.2" height="11.3" fill="#d35a51"/><rect x="781.2" y="214.7" width="3" height="4.6" fill="#d35a51"/><rect x="784.8" y="214.2" width="1.2" height="6.9" fill="#36968a"/><rect x="783.9" y="218" width="3" height="1.3" fill="#36968a"/><rect x="787.6" y="215.5" width="1.2" height="7.6" fill="#d35a51"/><rect x="786.7" y="218" width="3" height="1.8" fill="#d35a51"/><rect x="790.4" y="217.9" width="1.2" height="5.3" fill="#36968a"/><rect x="789.5" y="220.2" width="3" height="1" fill="#36968a"/><rect x="793.2" y="217.3" width="1.2" height="11.3" fill="#d35a51"/><rect x="792.3" y="220.2" width="3" height="7" fill="#d35a51"/><rect x="795.9" y="226.4" width="1.2" height="25.4" fill="#d35a51"/><rect x="795" y="227.2" width="3" height="14.6" fill="#d35a51"/><rect x="798.7" y="237.3" width="1.2" height="7.1" fill="#36968a"/><rect x="797.8" y="240" width="3" height="1.8" fill="#36968a"/><rect x="801.5" y="236.3" width="1.2" height="20.3" fill="#d35a51"/><rect x="800.6" y="240" width="3" height="10.7" fill="#d35a51"/><rect x="804.2" y="244.4" width="1.2" height="20.8" fill="#d35a51"/><rect x="803.3" y="250.7" width="3" height="8.8" fill="#d35a51"/><rect x="807" y="240.8" width="1.2" height="19.7" fill="#36968a"/><rect x="806.1" y="243.1" width="3" height="16.4" fill="#36968a"/><rect x="809.8" y="239.2" width="1.2" height="6" fill="#36968a"/><rect x="808.9" y="241.4" width="3" height="1.7" fill="#36968a"/><rect x="812.5" y="233.6" width="1.2" height="10.7" fill="#36968a"/><rect x="811.6" y="239.3" width="3" height="2.1" fill="#36968a"/><rect x="815.3" y="217.9" width="1.2" height="22.3" fill="#36968a"/><rect x="814.4" y="221.9" width="3" height="17.4" fill="#36968a"/><rect x="818.1" y="215.6" width="1.2" height="14.7" fill="#36968a"/><rect x="817.2" y="216.8" width="3" height="5.1" fill="#36968a"/><rect x="820.9" y="214.9" width="1.2" height="8.7" fill="#d35a51"/><rect x="820" y="216.8" width="3" height="2.1" fill="#d35a51"/><rect x="823.6" y="203.3" width="1.2" height="20.7" fill="#36968a"/><rect x="822.7" y="204.4" width="3" height="14.6" fill="#36968a"/><rect x="826.4" y="178.8" width="1.2" height="29.5" fill="#36968a"/><rect x="825.5" y="186.3" width="3" height="18" fill="#36968a"/><rect x="829.2" y="165.7" width="1.2" height="21.5" fill="#36968a"/><rect x="828.3" y="171.1" width="3" height="15.2" fill="#36968a"/><rect x="831.9" y="154.1" width="1.2" height="20.6" fill="#36968a"/><rect x="831" y="155.1" width="3" height="16" fill="#36968a"/><rect x="834.7" y="153.1" width="1.2" height="12.2" fill="#d35a51"/><rect x="833.8" y="154.6" width="3" height="1" fill="#d35a51"/><rect x="837.5" y="135.4" width="1.2" height="30" fill="#36968a"/><rect x="836.6" y="138.2" width="3" height="17.2" fill="#36968a"/><rect x="840.2" y="124.1" width="1.2" height="15.4" fill="#36968a"/><rect x="839.3" y="132.4" width="3" height="5.8" fill="#36968a"/><rect x="843" y="110.8" width="1.2" height="30.3" fill="#36968a"/><rect x="842.1" y="116.3" width="3" height="16.1" fill="#36968a"/><rect x="845.8" y="115.3" width="1.2" height="8.5" fill="#d35a51"/><rect x="844.9" y="116.3" width="3" height="5.4" fill="#d35a51"/><rect x="848.6" y="116.6" width="1.2" height="20.2" fill="#d35a51"/><rect x="847.7" y="121.7" width="3" height="13.9" fill="#d35a51"/><rect x="851.3" y="127.9" width="1.2" height="12.8" fill="#d35a51"/><rect x="850.4" y="135.5" width="3" height="3.5" fill="#d35a51"/><rect x="854.1" y="133.1" width="1.2" height="18.2" fill="#d35a51"/><rect x="853.2" y="139" width="3" height="11.1" fill="#d35a51"/><rect x="856.9" y="147.2" width="1.2" height="12.2" fill="#d35a51"/><rect x="856" y="150.1" width="3" height="1" fill="#d35a51"/><rect x="859.6" y="146.7" width="1.2" height="6.1" fill="#36968a"/><rect x="858.7" y="148.2" width="3" height="2.9" fill="#36968a"/><rect x="862.4" y="138" width="1.2" height="12.2" fill="#36968a"/><rect x="861.5" y="140.9" width="3" height="7.3" fill="#36968a"/><rect x="865.2" y="118.8" width="1.2" height="24.5" fill="#d35a51"/><rect x="864.3" y="140.1" width="3" height="1" fill="#d35a51"/><rect x="867.9" y="137.1" width="1.2" height="20.7" fill="#d35a51"/><rect x="867" y="140.9" width="3" height="15.1" fill="#d35a51"/><rect x="870.7" y="154" width="1.2" height="12" fill="#d35a51"/><rect x="869.8" y="156" width="3" height="7.8" fill="#d35a51"/><rect x="873.5" y="158.3" width="1.2" height="21.7" fill="#d35a51"/><rect x="872.6" y="163.8" width="3" height="1.9" fill="#d35a51"/><rect x="876.3" y="144.4" width="1.2" height="22.3" fill="#36968a"/><rect x="875.4" y="149.5" width="3" height="16.1" fill="#36968a"/><rect x="879" y="140.6" width="1.2" height="18.9" fill="#36968a"/><rect x="878.1" y="147.3" width="3" height="2.3" fill="#36968a"/><rect x="881.8" y="134.4" width="1.2" height="15.9" fill="#36968a"/><rect x="880.9" y="137" width="3" height="10.3" fill="#36968a"/><rect x="884.6" y="126.7" width="1.2" height="17.9" fill="#36968a"/><rect x="883.7" y="131" width="3" height="6" fill="#36968a"/><rect x="887.3" y="125.8" width="1.2" height="8.2" fill="#36968a"/><rect x="886.4" y="127.5" width="3" height="3.5" fill="#36968a"/><rect x="890.1" y="114.4" width="1.2" height="17.9" fill="#36968a"/><rect x="889.2" y="121" width="3" height="6.5" fill="#36968a"/><rect x="892.9" y="102.1" width="1.2" height="21.1" fill="#36968a"/><rect x="892" y="104.3" width="3" height="16.7" fill="#36968a"/><rect x="895.6" y="90.6" width="1.2" height="14.9" fill="#36968a"/><rect x="894.8" y="92.8" width="3" height="11.5" fill="#36968a"/><rect x="898.4" y="79" width="1.2" height="14.9" fill="#36968a"/><rect x="897.5" y="81" width="3" height="11.8" fill="#36968a"/><rect x="901.2" y="70.5" width="1.2" height="14.2" fill="#36968a"/><rect x="900.3" y="77.9" width="3" height="3.1" fill="#36968a"/><rect x="904" y="67.9" width="1.2" height="24.8" fill="#d35a51"/><rect x="903.1" y="77.9" width="3" height="12.9" fill="#d35a51"/><rect x="906.7" y="71" width="1.2" height="21.7" fill="#36968a"/><rect x="905.8" y="77.5" width="3" height="13.3" fill="#36968a"/><rect x="909.5" y="67.5" width="1.2" height="24.5" fill="#d35a51"/><rect x="908.6" y="77.5" width="3" height="7.5" fill="#d35a51"/><rect x="912.3" y="76.3" width="1.2" height="31.7" fill="#d35a51"/><rect x="911.4" y="85" width="3" height="15.4" fill="#d35a51"/><rect x="915" y="95.7" width="1.2" height="17.1" fill="#d35a51"/><rect x="914.1" y="100.4" width="3" height="7.4" fill="#d35a51"/><rect x="917.8" y="106.3" width="1.2" height="17.4" fill="#d35a51"/><rect x="916.9" y="107.9" width="3" height="14" fill="#d35a51"/><rect x="920.6" y="118.1" width="1.2" height="35.3" fill="#d35a51"/><rect x="919.7" y="121.8" width="3" height="29.2" fill="#d35a51"/><rect x="923.3" y="148.8" width="1.2" height="9.7" fill="#d35a51"/><rect x="922.4" y="151" width="3" height="6.6" fill="#d35a51"/><rect x="926.1" y="152.3" width="1.2" height="9" fill="#36968a"/><rect x="925.2" y="155.1" width="3" height="2.5" fill="#36968a"/><rect x="928.9" y="154.1" width="1.2" height="5.8" fill="#d35a51"/><rect x="928" y="155.1" width="3" height="3.9" fill="#d35a51"/><rect x="931.7" y="155.6" width="1.2" height="8.4" fill="#d35a51"/><rect x="930.8" y="158.9" width="3" height="3.2" fill="#d35a51"/><rect x="934.4" y="159.2" width="1.2" height="11" fill="#d35a51"/><rect x="933.5" y="162.2" width="3" height="4.9" fill="#d35a51"/><rect x="937.2" y="162.2" width="1.2" height="6.7" fill="#36968a"/><rect x="936.3" y="164.6" width="3" height="2.5" fill="#36968a"/><rect x="940" y="163.4" width="1.2" height="5.1" fill="#d35a51"/><rect x="939.1" y="164.6" width="3" height="1.7" fill="#d35a51"/><rect x="942.7" y="160.3" width="1.2" height="21" fill="#d35a51"/><rect x="941.8" y="166.3" width="3" height="13.6" fill="#d35a51"/><rect x="945.5" y="179.1" width="1.2" height="9" fill="#d35a51"/><rect x="944.6" y="179.9" width="3" height="2.6" fill="#d35a51"/><rect x="948.3" y="178" width="1.2" height="9.9" fill="#d35a51"/><rect x="947.4" y="182.4" width="3" height="2.8" fill="#d35a51"/><rect x="951" y="184.2" width="1.2" height="10.4" fill="#d35a51"/><rect x="950.1" y="185.2" width="3" height="8.1" fill="#d35a51"/><rect x="953.8" y="185.8" width="1.2" height="9.3" fill="#36968a"/><rect x="952.9" y="189.9" width="3" height="3.4" fill="#36968a"/><rect x="956.6" y="184.1" width="1.2" height="28.5" fill="#d35a51"/><rect x="955.7" y="189.9" width="3" height="12.7" fill="#d35a51"/><rect x="959.4" y="191.7" width="1.2" height="16.9" fill="#36968a"/><rect x="958.5" y="192.6" width="3" height="10" fill="#36968a"/><rect x="962.1" y="182.6" width="1.2" height="13.6" fill="#36968a"/><rect x="961.2" y="190.1" width="3" height="2.6" fill="#36968a"/><rect x="964.9" y="180.6" width="1.2" height="13" fill="#36968a"/><rect x="964" y="184" width="3" height="6.1" fill="#36968a"/><rect x="967.7" y="174.7" width="1.2" height="12.2" fill="#36968a"/><rect x="966.8" y="177.7" width="3" height="6.3" fill="#36968a"/><rect x="970.4" y="176.3" width="1.2" height="43.7" fill="#d35a51"/><rect x="969.5" y="177.7" width="3" height="21.1" fill="#d35a51"/><rect x="973.2" y="197.8" width="1.2" height="9.3" fill="#d35a51"/><rect x="972.3" y="198.8" width="3" height="7.4" fill="#d35a51"/><rect x="976" y="196.8" width="1.2" height="10.7" fill="#36968a"/><rect x="975.1" y="198.2" width="3" height="8" fill="#36968a"/><rect x="978.7" y="177.9" width="1.2" height="21.4" fill="#36968a"/><rect x="977.8" y="186" width="3" height="12.2" fill="#36968a"/><rect x="981.5" y="168" width="1.2" height="22" fill="#36968a"/><rect x="980.6" y="179.4" width="3" height="6.6" fill="#36968a"/><rect x="984.3" y="177.9" width="1.2" height="18.8" fill="#d35a51"/><rect x="983.4" y="179.4" width="3" height="14.9" fill="#d35a51"/><rect x="987.1" y="191.3" width="1.2" height="31.7" fill="#d35a51"/><rect x="986.2" y="194.3" width="3" height="10.3" fill="#d35a51"/><rect x="989.8" y="200.7" width="1.2" height="14.2" fill="#d35a51"/><rect x="988.9" y="204.7" width="3" height="7.8" fill="#d35a51"/><rect x="992.6" y="207.2" width="1.2" height="8.2" fill="#36968a"/><rect x="991.7" y="210.9" width="3" height="1.6" fill="#36968a"/><rect x="995.4" y="209.9" width="1.2" height="29" fill="#d35a51"/><rect x="994.5" y="210.9" width="3" height="24.3" fill="#d35a51"/><rect x="998.1" y="225.1" width="1.2" height="29.1" fill="#d35a51"/><rect x="997.2" y="235.1" width="3" height="14.5" fill="#d35a51"/><rect x="1000.9" y="246.8" width="1.2" height="20.5" fill="#d35a51"/><rect x="1000" y="249.6" width="3" height="14.7" fill="#d35a51"/><rect x="1003.7" y="262" width="1.2" height="18.5" fill="#d35a51"/><rect x="1002.8" y="264.2" width="3" height="13.8" fill="#d35a51"/><rect x="1006.4" y="277.2" width="1.2" height="5.8" fill="#36968a"/><rect x="1005.5" y="278.2" width="3" height="1" fill="#36968a"/><rect x="1009.2" y="264.6" width="1.2" height="23.6" fill="#36968a"/><rect x="1008.3" y="266" width="3" height="12.3" fill="#36968a"/><rect x="1012" y="258" width="1.2" height="10.1" fill="#36968a"/><rect x="1011.1" y="266.4" width="3" height="1" fill="#36968a"/><rect x="1014.8" y="264.4" width="1.2" height="27.3" fill="#d35a51"/><rect x="1013.9" y="266.4" width="3" height="20.3" fill="#d35a51"/><rect x="1017.5" y="282.4" width="1.2" height="29.6" fill="#d35a51"/><rect x="1016.6" y="286.8" width="3" height="17.7" fill="#d35a51"/><rect x="1020.3" y="282.7" width="1.2" height="23.5" fill="#36968a"/><rect x="1019.4" y="287.2" width="3" height="17.3" fill="#36968a"/><rect x="1023.1" y="275.7" width="1.2" height="14.1" fill="#36968a"/><rect x="1022.2" y="278.9" width="3" height="8.3" fill="#36968a"/><rect x="1025.8" y="253.8" width="1.2" height="28.1" fill="#36968a"/><rect x="1024.9" y="259.3" width="3" height="19.6" fill="#36968a"/><rect x="1028.6" y="257.6" width="1.2" height="6.5" fill="#d35a51"/><rect x="1027.7" y="259.3" width="3" height="1" fill="#d35a51"/><rect x="1031.4" y="240.8" width="1.2" height="20.9" fill="#36968a"/><rect x="1030.5" y="250.8" width="3" height="9.4" fill="#36968a"/><rect x="1034.2" y="243.6" width="1.2" height="20.1" fill="#d35a51"/><rect x="1033.2" y="250.8" width="3" height="12.1" fill="#d35a51"/><rect x="1036.9" y="261.2" width="1.2" height="8.7" fill="#d35a51"/><rect x="1036" y="262.9" width="3" height="5.4" fill="#d35a51"/><rect x="1039.7" y="247.5" width="1.2" height="30.3" fill="#36968a"/><rect x="1038.8" y="252.4" width="3" height="15.9" fill="#36968a"/><rect x="1042.5" y="239.8" width="1.2" height="14.6" fill="#36968a"/><rect x="1041.6" y="244.7" width="3" height="7.7" fill="#36968a"/><rect x="1045.2" y="230" width="1.2" height="18.4" fill="#d35a51"/><rect x="1044.3" y="244.7" width="3" height="1.7" fill="#d35a51"/><rect x="1048" y="233.5" width="1.2" height="20.8" fill="#36968a"/><rect x="1047.1" y="242.7" width="3" height="3.7" fill="#36968a"/><rect x="1050.8" y="236.2" width="1.2" height="10.8" fill="#36968a"/><rect x="1049.9" y="240" width="3" height="2.7" fill="#36968a"/><rect x="1053.5" y="234" width="1.2" height="16" fill="#36968a"/><rect x="1052.6" y="238.1" width="3" height="1.9" fill="#36968a"/><rect x="1056.3" y="235.4" width="1.2" height="15.5" fill="#d35a51"/><rect x="1055.4" y="238.1" width="3" height="6.5" fill="#d35a51"/><rect x="1059.1" y="240.2" width="1.2" height="33.6" fill="#d35a51"/><rect x="1058.2" y="244.6" width="3" height="22.5" fill="#d35a51"/><rect x="1061.9" y="259.4" width="1.2" height="12.3" fill="#36968a"/><rect x="1061" y="262" width="3" height="5.1" fill="#36968a"/><rect x="1064.6" y="251" width="1.2" height="12.9" fill="#36968a"/><rect x="1063.7" y="255.6" width="3" height="6.4" fill="#36968a"/><rect x="1067.4" y="252.9" width="1.2" height="6.5" fill="#d35a51"/><rect x="1066.5" y="255.2" width="3" height="1" fill="#d35a51"/><rect x="1070.2" y="262" width="1.2" height="49" fill="#d35a51"/><rect x="1069.3" y="267.3" width="3" height="42.3" fill="#d35a51"/><rect x="1072.9" y="284" width="1.2" height="31.5" fill="#36968a"/><rect x="1072" y="291" width="3" height="18.6" fill="#36968a"/><rect x="1075.7" y="286.9" width="1.2" height="8.1" fill="#36968a"/><rect x="1074.8" y="290.5" width="3" height="3.8" fill="#36968a"/></g><line x1="10" y1="290.5" x2="1105" y2="290.5" stroke="#5d6b6b" stroke-width="1" stroke-dasharray="1 2"/><line x1="884" y1="70" x2="1105" y2="70" stroke="#34527a" stroke-width="2"/><line x1="11" y1="146" x2="1105" y2="146" stroke="#34527a" stroke-width="2"/><line x1="11" y1="308" x2="1105" y2="308" stroke="#34527a" stroke-width="2"/><line x1="543.5" y1="361" x2="1105" y2="361" stroke="#2f56a3" stroke-width="2"/><line x1="590.9" y1="369" x2="951.3" y2="195.8" stroke="#2f56a3" stroke-width="2" stroke-linecap="round"/><text x="581.5" y="139.4" font-size="24" fill="#2f5fbf" stroke="#2f5fbf" stroke-width="0.35" textLength="243" lengthAdjust="spacingAndGlyphs">WWW.TRADERSUP.COM</text><text y="45.5" font-size="11.8" fill="#131722" stroke="#131722" stroke-width="0.22"><tspan x="18.3" textLength="198.7" lengthAdjust="spacingAndGlyphs">British Pound / U.S. Dollar, 1D, FXCM</tspan><tspan x="227" >O</tspan><tspan x="235" fill="#3d9b8f" textLength="41.7" lengthAdjust="spacingAndGlyphs" stroke="#3d9b8f" stroke-width="0.22">1.25588</tspan><tspan x="284.3">H</tspan><tspan x="292.5" fill="#3d9b8f" textLength="38.5" lengthAdjust="spacingAndGlyphs" stroke="#3d9b8f" stroke-width="0.22">1.25880</tspan><tspan x="340.7">L</tspan><tspan x="347.5" fill="#3d9b8f" textLength="38.5" lengthAdjust="spacingAndGlyphs" stroke="#3d9b8f" stroke-width="0.22">1.25559</tspan><tspan x="394.3">C</tspan><tspan x="402.5" fill="#3d9b8f" textLength="38.2" lengthAdjust="spacingAndGlyphs" stroke="#3d9b8f" stroke-width="0.22">1.25753</tspan><tspan x="449" fill="#3d9b8f" textLength="46.5" lengthAdjust="spacingAndGlyphs" stroke="#3d9b8f" stroke-width="0.22">+0.00112</tspan><tspan x="499" fill="#3d9b8f" textLength="43" lengthAdjust="spacingAndGlyphs" stroke="#3d9b8f" stroke-width="0.22">(+0.09%)</tspan></text><g transform="translate(1078.6,436.7)"><circle r="10" fill="#fff" stroke="#b8404f" stroke-width="1.4"/><clipPath id="fc"><circle r="7.6"/></clipPath><g clip-path="url(#fc)"><rect x="-9" y="-9" width="18" height="18" fill="#fff"/><rect x="-9" y="-4.3" width="18" height="2.2" fill="#d9534f"/><rect x="-9" y="-0.3" width="18" height="2.2" fill="#d9534f"/><rect x="-9" y="4.0" width="18" height="3" fill="#d9534f"/><rect x="-9" y="-8" width="10" height="9.8" fill="#2f6fc0"/><g fill="#cfe6ff"><circle cx="-4.6" cy="-5.2" r="0.5"/><circle cx="-2.2" cy="-5.2" r="0.5"/><circle cx="-4.6" cy="-2.6" r="0.5"/><circle cx="-2.2" cy="-2.6" r="0.5"/><circle cx="-6.6" cy="-2.6" r="0.5"/><circle cx="-4.6" cy="-0.2" r="0.5"/><circle cx="-2.2" cy="-0.2" r="0.5"/><circle cx="-6.6" cy="-0.2" r="0.5"/></g></g></g><text x="1114.9" y="134.9" font-size="12.3" fill="#131722" textLength="39" lengthAdjust="spacingAndGlyphs" stroke="#131722" stroke-width="0.22">1.32000</text><text x="1114.9" y="185.9" font-size="12.3" fill="#131722" textLength="39" lengthAdjust="spacingAndGlyphs" stroke="#131722" stroke-width="0.22">1.30000</text><text x="1114.9" y="236.9" font-size="12.3" fill="#131722" textLength="39" lengthAdjust="spacingAndGlyphs" stroke="#131722" stroke-width="0.22">1.28000</text><text x="1114.9" y="288.9" font-size="12.3" fill="#131722" textLength="39" lengthAdjust="spacingAndGlyphs" stroke="#131722" stroke-width="0.22">1.26000</text><text x="1114.9" y="339.9" font-size="12.3" fill="#131722" textLength="39" lengthAdjust="spacingAndGlyphs" stroke="#131722" stroke-width="0.22">1.24000</text><text x="1114.9" y="391.9" font-size="12.3" fill="#131722" textLength="39" lengthAdjust="spacingAndGlyphs" stroke="#131722" stroke-width="0.22">1.22000</text><text x="1114.9" y="442.9" font-size="12.3" fill="#131722" textLength="39" lengthAdjust="spacingAndGlyphs" stroke="#131722" stroke-width="0.22">1.20000</text><text x="1114.9" y="82.9" font-size="12.3" fill="#131722" textLength="39" lengthAdjust="spacingAndGlyphs" stroke="#131722" stroke-width="0.22">1.34000</text><rect x="1106" y="62" width="53" height="17" rx="2" fill="#2962ff"/><text x="1114.9" y="74.9" font-size="12.3" fill="#fff" textLength="39" lengthAdjust="spacingAndGlyphs" stroke="#fff" stroke-width="0.22">1.34312</text><rect x="1106" y="138" width="53" height="17" rx="2" fill="#2962ff"/><text x="1114.9" y="150.9" font-size="12.3" fill="#fff" textLength="39" lengthAdjust="spacingAndGlyphs" stroke="#fff" stroke-width="0.22">1.31360</text><rect x="1106" y="353" width="53" height="17" rx="2" fill="#2962ff"/><text x="1114.9" y="365.9" font-size="12.3" fill="#fff" textLength="39" lengthAdjust="spacingAndGlyphs" stroke="#fff" stroke-width="0.22">1.22996</text><path d="M1106.2 282.1 H1160.8 Q1162.8 282.1 1162.8 284.1 V310.7 Q1162.8 312.7 1160.8 312.7 H1106.2 Z" fill="#289b8c"/><text x="1115.2" y="295.1" font-size="12.2" fill="#fff" textLength="38.2" lengthAdjust="spacingAndGlyphs" stroke="#fff" stroke-width="0.22">1.25753</text><text x="1115.2" y="308.9" font-size="12.2" fill="#fff" textLength="42.7" lengthAdjust="spacingAndGlyphs" stroke="#fff" stroke-width="0.22">15:43:09</text><rect x="1106.2" y="313.2" width="52.5" height="16.1" rx="2" fill="#2962ff"/><text x="1114.9" y="325.7" font-size="12.3" fill="#fff" textLength="39" lengthAdjust="spacingAndGlyphs" stroke="#fff" stroke-width="0.22">1.25055</text><path d="M1056 282.2 H1105 V298.2 H1056 Q1054 298.2 1054 296.2 V284.2 Q1054 282.2 1056 282.2 Z" fill="#289b8c"/><text x="1057.8" y="294.9" font-size="12.8" fill="#fff" textLength="43" lengthAdjust="spacingAndGlyphs" stroke="#fff" stroke-width="0.22">GBPUSD</text><line x1="11" y1="456.5" x2="1105" y2="456.5" stroke="#ededed" stroke-width="1"/><line x1="11" y1="502.5" x2="1105" y2="502.5" stroke="#ededed" stroke-width="1"/><line x1="11" y1="548.5" x2="1105" y2="548.5" stroke="#ededed" stroke-width="1"/><rect x="11" y="479.5" width="1094" height="92" fill="#7e57c2" fill-opacity="0.1"/><line x1="10" y1="479.5" x2="1105" y2="479.5" stroke="#787b86" stroke-width="1" stroke-dasharray="5 6"/><line x1="10" y1="525.5" x2="1105" y2="525.5" stroke="#787b86" stroke-width="1" stroke-dasharray="5 6"/><line x1="10" y1="571.5" x2="1105" y2="571.5" stroke="#787b86" stroke-width="1" stroke-dasharray="5 6"/><g clip-path="url(#cr)"><polygon points="10.2,571.5 10.2,571.5 11.9,571.5 14.5,571.5 16.6,571.5 19.9,571.5 22,571.5 25.2,571.5 28.5,571.5 31.7,571.5 35,571.5 37.1,571.5 40.3,571.5 43.6,571.5 46.8,571.5 50,571.5 53.3,571.5 55.4,571.5 58.6,571.5 61.9,571.5 65.1,571.5 67.9,571.5 70.5,571.5 73.7,571.5 77,571.5 80.2,571.5 83.9,571.5 87.5,571.5 91.9,571.5 95.1,571.5 98.3,571.5 102.6,571.5 105.9,571.5 109.1,571.5 112.3,571.5 116.6,571.5 119.9,571.5 123.1,571.5 126.3,571.5 131.1,571.5 135,571.5 137.1,571.5 139.9,571.5 143.6,571.5 146.8,571.5 150,571.5 152.8,571.5 154.6,571.5 158.5,571.5 161.7,571.5 164.9,571.5 168.2,571.5 170.3,571.5 173.6,575 176.8,585.8 179,590 186.5,590 188.6,575 190.8,573.9 193,579.3 195.1,590 197.7,590 201.6,571.5 204.8,571.5 207.6,571.5 209.8,571.5 213.9,571.5 217.7,571.5 220.5,571.5 223.8,571.5 226.6,571.5 229.4,571.5 233.7,571.5 236.9,571.5 239.5,571.5 242.3,571.5 245.6,571.5 248.1,571.5 250.3,571.5 254.2,571.5 256.8,571.5 258.9,571.5 261.1,571.5 265,571.5 268.2,571.5 270.3,571.5 273.1,571.5 275.7,571.5 278.3,571.5 281.1,571.5 284.3,571.5 287.6,571.5 291.2,571.5 294.7,571.5 296.8,571.5 298.2,571.5 302.5,571.5 305.7,571.5 308.5,571.5 311.1,571.5 313.7,571.5 316.5,571.5 319.7,571.5 322.9,571.5 325.7,571.5 327.9,571.5 330.9,571.5 334.8,571.5 338,571.5 341.7,571.5 344.5,571.5 347.3,571.5 349.9,571.5 353.1,571.5 356.3,571.5 360.2,571.5 363.9,571.5 366.7,571.5 370.2,571.5 371.9,571.5 374.5,571.5 377.7,571.5 382.7,571.5 385.7,571.5 391.3,571.5 396,571.5 399.9,571.5 403.6,571.5 406.8,571.5 411.1,571.5 413.7,571.5 417.1,571.5 419.7,571.5 424,571.5 429.4,571.5 432.7,571.5 435.2,571.5 438.7,571.5 440.8,571.5 443.2,571.5 445.4,571.5 448.6,571.5 452.9,571.5 457.7,571.5 461.6,571.5 465.9,571.5 469.1,571.5 472.3,571.5 475.6,571.5 478.8,571.5 481,571.5 483.1,571.5 485.7,571.5 488.7,571.5 492.8,571.5 498.2,571.5 501.4,571.5 504.7,571.5 507.9,571.5 510.7,571.5 514.2,571.5 516.3,571.5 519.5,571.5 524.9,571.5 526.7,571.5 529.7,571.5 532.9,571.5 536.1,571.5 541.1,571.5 546.5,571.5 549.7,571.5 554,571.5 560.5,571.5 565.9,571.5 568.5,571.5 571.3,571.5 574.5,571.5 579.2,571.5 582.7,571.5 586.2,571.5 587.9,571.8 590.9,573.9 593.7,571.5 596.9,571.5 599.1,571.5 601.7,571.5 604.9,571.5 608.1,571.5 610.9,571.5 615.3,571.5 618.9,571.5 622.8,571.5 627.1,571.5 629.7,571.5 632.5,571.5 635.7,571.5 637.9,571.5 641.1,571.5 644.3,571.5 648.7,571.5 651.9,571.5 654.7,571.5 659.9,571.5 662.5,571.5 665.7,571.5 668.9,571.5 671.5,571.5 674.3,571.5 676.5,571.5 680.1,571.5 682.9,571.5 685.1,571.5 690.5,571.5 693.7,571.5 698.7,571.5 702.3,571.5 706.6,571.5 709.9,571.5 713.1,571.5 716.3,571.5 718.9,571.5 721.1,571.5 724.5,571.5 728.2,571.5 730.2,571.5 733.4,571.5 737.7,571.5 740.9,571.5 745.7,571.5 749.6,571.5 752.1,571.5 754.9,571.5 757.7,571.5 762.5,571.5 767.2,571.5 770.7,571.5 774.3,571.5 777.6,571.5 779.3,571.5 783,571.5 786.2,571.5 788.3,571.5 791,571.5 793.1,571.5 795.9,571.5 799.1,571.5 802.6,571.5 805.4,571.5 808.6,571.5 812.9,571.5 815.5,571.5 817.7,571.5 820.5,571.5 823.7,571.5 828,571.5 832.3,571.5 834.9,571.5 837.7,571.5 840.5,571.5 843.1,571.5 846.3,571.5 851.3,571.5 853.9,571.5 857.1,571.5 862.5,571.5 866.8,571.5 870,571.5 873.7,571.5 876.3,571.5 879.5,571.5 881.7,571.5 884.9,571.5 889.2,571.5 893.6,571.5 896.1,571.5 898.9,571.5 901.1,571.5 903.9,571.5 906.9,571.5 910.4,571.5 912.5,571.5 915.1,571.5 918.3,571.5 922.6,571.5 924.2,571.5 926.3,571.5 931.3,571.5 936.7,571.5 939.9,571.5 943.1,571.5 947.9,571.5 950.5,571.5 953.7,571.5 956.9,571.5 960.2,571.5 963,571.5 967.7,571.5 972.4,571.5 976.3,571.5 981.7,571.5 983.9,571.5 986.7,571.5 992.5,571.5 996.8,571.5 1002.6,571.5 1007.6,571.5 1011.9,571.5 1017.3,573.9 1018.2,574.6 1021.4,571.5 1023.5,571.5 1026.3,571.5 1028.9,571.5 1032.2,571.5 1034.3,571.5 1038.6,571.5 1042.9,571.5 1045.7,571.5 1048.3,571.5 1050.9,571.5 1054.4,571.5 1059.1,571.5 1061.7,571.5 1065.1,571.5 1069.9,571.5 1072.5,571.5 1075.9,571.5 1075.9,571.5" fill="url(#gos)"/><polygon points="10.2,479.5 10.2,479.5 11.9,479.5 14.5,479.5 16.6,479.5 19.9,479.5 22,479.5 25.2,479.5 28.5,479.5 31.7,473.7 35,467.2 37.1,458.2 40.3,465 43.6,475.9 46.8,479.5 50,479.5 53.3,479.5 55.4,479.5 58.6,479.5 61.9,479.5 65.1,479.5 67.9,479.5 70.5,479.5 73.7,479.5 77,479.5 80.2,479.5 83.9,479.5 87.5,479.5 91.9,479.5 95.1,479.5 98.3,479.5 102.6,479.5 105.9,479.5 109.1,479.5 112.3,479.5 116.6,479.5 119.9,479.5 123.1,479.5 126.3,479.5 131.1,479.5 135,479.5 137.1,479.5 139.9,479.5 143.6,479.5 146.8,479.5 150,479.5 152.8,479.5 154.6,479.5 158.5,479.5 161.7,479.5 164.9,479.5 168.2,479.5 170.3,479.5 173.6,479.5 176.8,479.5 179,479.5 186.5,479.5 188.6,479.5 190.8,479.5 193,479.5 195.1,479.5 197.7,479.5 201.6,479.5 204.8,479.5 207.6,479.5 209.8,479.5 213.9,479.5 217.7,479.5 220.5,479.5 223.8,479.5 226.6,479.5 229.4,479.5 233.7,479.5 236.9,479.5 239.5,479.5 242.3,479.5 245.6,479.5 248.1,479.5 250.3,479.5 254.2,479.5 256.8,479.5 258.9,479.5 261.1,479.5 265,479.5 268.2,479.5 270.3,479.5 273.1,479.5 275.7,479.5 278.3,479.5 281.1,479.5 284.3,479.5 287.6,479.5 291.2,479.5 294.7,479.5 296.8,479.5 298.2,479.5 302.5,479.5 305.7,479.5 308.5,475.9 311.1,476.9 313.7,479.5 316.5,479.5 319.7,479.5 322.9,479.5 325.7,479.5 327.9,479.5 330.9,479.5 334.8,479.5 338,479.5 341.7,479.5 344.5,479.5 347.3,479.5 349.9,479.5 353.1,479.5 356.3,479.5 360.2,479.5 363.9,479.5 366.7,479.5 370.2,479.5 371.9,479.5 374.5,479.5 377.7,479.5 382.7,479.5 385.7,479.5 391.3,479.5 396,479.5 399.9,479.5 403.6,479.5 406.8,479.5 411.1,479.5 413.7,479.5 417.1,479.5 419.7,479.5 424,479.5 429.4,479.5 432.7,479.5 435.2,479.5 438.7,479.5 440.8,479.5 443.2,479.5 445.4,479.5 448.6,479.5 452.9,479.5 457.7,479.5 461.6,479.5 465.9,479.5 469.1,479.5 472.3,479.5 475.6,479.5 478.8,479.5 481,479.5 483.1,479.5 485.7,479.5 488.7,479.5 492.8,479.5 498.2,479.5 501.4,479.5 504.7,475.4 507.9,479.5 510.7,479.5 514.2,479.5 516.3,479.5 519.5,479.5 524.9,479.5 526.7,479.5 529.7,479.5 532.9,479.5 536.1,479.5 541.1,479.5 546.5,479.5 549.7,479.5 554,479.5 560.5,479.5 565.9,479.5 568.5,479.5 571.3,479.5 574.5,479.5 579.2,479.5 582.7,479.5 586.2,479.5 587.9,479.5 590.9,479.5 593.7,479.5 596.9,479.5 599.1,479.5 601.7,479.5 604.9,479.5 608.1,479.5 610.9,479.5 615.3,479.5 618.9,479.5 622.8,479.5 627.1,479.5 629.7,479.5 632.5,479.5 635.7,479.5 637.9,479.5 641.1,479.5 644.3,479.5 648.7,479.5 651.9,479.5 654.7,479.5 659.9,479.5 662.5,479.5 665.7,479.5 668.9,479.5 671.5,479.5 674.3,479.5 676.5,479.5 680.1,479.5 682.9,479.5 685.1,479.5 690.5,479.5 693.7,479.5 698.7,479.5 702.3,479.5 706.6,479.5 709.9,479.5 713.1,479.5 716.3,479.5 718.9,479.5 721.1,479.5 724.5,479.5 728.2,479.5 730.2,479.5 733.4,479.5 737.7,479.5 740.9,479.5 745.7,479.5 749.6,479.5 752.1,474.8 754.9,468.3 757.7,473.7 762.5,469.4 767.2,479.5 770.7,479.5 774.3,479.5 777.6,479.5 779.3,479.5 783,479.5 786.2,479.5 788.3,479.5 791,479.5 793.1,479.5 795.9,479.5 799.1,479.5 802.6,479.5 805.4,479.5 808.6,479.5 812.9,479.5 815.5,479.5 817.7,479.5 820.5,479.5 823.7,479.5 828,479.5 832.3,478 834.9,478 837.7,465.5 840.5,471.6 843.1,464.7 846.3,479.5 851.3,479.5 853.9,479.5 857.1,479.5 862.5,479.5 866.8,479.5 870,479.5 873.7,479.5 876.3,479.5 879.5,479.5 881.7,479.5 884.9,479.5 889.2,479.5 893.6,479.5 896.1,479.5 898.9,475.4 901.1,479.5 903.9,479.5 906.9,479.5 910.4,479.5 912.5,479.5 915.1,479.5 918.3,479.5 922.6,479.5 924.2,479.5 926.3,479.5 931.3,479.5 936.7,479.5 939.9,479.5 943.1,479.5 947.9,479.5 950.5,479.5 953.7,479.5 956.9,479.5 960.2,479.5 963,479.5 967.7,479.5 972.4,479.5 976.3,479.5 981.7,479.5 983.9,479.5 986.7,479.5 992.5,479.5 996.8,479.5 1002.6,479.5 1007.6,479.5 1011.9,479.5 1017.3,479.5 1018.2,479.5 1021.4,479.5 1023.5,479.5 1026.3,479.5 1028.9,479.5 1032.2,479.5 1034.3,479.5 1038.6,479.5 1042.9,479.5 1045.7,479.5 1048.3,479.5 1050.9,479.5 1054.4,479.5 1059.1,479.5 1061.7,479.5 1065.1,479.5 1069.9,479.5 1072.5,479.5 1075.9,479.5 1075.9,479.5" fill="#089981" fill-opacity="0.05"/><path d="M10.2,497.4 C11.3,497.9 14.5,499.7 16.6,500.6 C18.8,501.5 20.9,502.6 23.1,502.8 C25.3,503 27.1,502.9 29.6,501.7 C32.1,500.4 35.3,497.3 38.2,495.3 C41.1,493.3 43.9,490.6 46.8,489.9 C49.7,489.2 52.9,490.6 55.4,491 C57.9,491.4 59.8,490.9 61.9,492 C64,493.1 66.1,494.7 68.3,497.4 C70.5,500.1 72.6,504.3 74.8,508.2 C77,512.1 79,517.4 81.3,521 C83.6,524.6 85.9,527.5 88.6,529.7 C91.2,531.9 94.3,532.9 97.2,534 C100.1,535.1 103,535.8 105.9,536.2 C108.8,536.6 111.6,535.7 114.5,536.2 C117.4,536.7 120.2,538.7 123.1,539.4 C126,540.1 128.8,540.5 131.7,540.5 C134.6,540.5 137.4,538.3 140.3,539.4 C143.2,540.5 146.6,544.8 149,547 C151.4,549.2 153.1,551.7 155,552.4 C156.9,553.1 158.2,550 160.6,551.3 C163,552.6 166.3,557.1 169.2,560 C172.1,562.9 175,566.2 177.9,568.5 C180.8,570.8 183.6,572.1 186.5,573.9 C189.4,575.7 192.9,578.2 195.1,579.3 C197.2,580.4 197.6,581.1 199.4,580.4 C201.2,579.7 203.4,577.3 205.9,575 C208.4,572.7 212,568.9 214.5,566.4 C217,563.9 218.9,562.1 221,559.9 C223.1,557.7 225.1,555.2 227,553.4 C228.9,551.6 230.2,550.9 232.6,549.1 C235,547.3 238.3,543.8 241.2,542.7 C244.1,541.6 247.4,542.9 249.9,542.7 C252.4,542.5 253.8,543.1 256.3,541.6 C258.8,540.1 262.1,536.3 265,534 C267.9,531.7 270.7,530.1 273.6,527.6 C276.5,525.1 279.3,522.2 282.2,519 C285.1,515.8 288,510.9 290.8,508.2 C293.6,505.5 296.7,504.2 299,502.8 C301.3,501.4 302.2,501.6 304.6,499.6 C307,497.6 310.7,492.6 313.2,491 C315.7,489.4 317.2,489.7 319.7,489.9 C322.2,490.1 325.4,490.9 328.3,492 C331.2,493.1 334.1,494.9 337,496.3 C339.9,497.7 342.7,499.2 345.6,500.6 C348.5,502.1 351.3,504.1 354.2,505 C357.1,505.9 360,506 362.8,506 C365.6,506 368.7,504.6 371,505 C373.3,505.4 374.2,507.5 376.6,508.2 C379,508.9 382.3,508.9 385.2,509.3 C388.1,509.7 391,509.6 393.9,510.3 C396.8,511 399.6,512.7 402.5,513.6 C405.4,514.5 408.2,515 411.1,515.7 C414,516.4 416.8,517.2 419.7,517.9 C422.6,518.6 425.4,518.9 428.3,520 C431.2,521.1 434.6,523.5 437,524.4 C439.4,525.3 441.1,524.9 443,525.4 C444.9,525.9 446.2,526.3 448.6,527.6 C451,528.9 454.3,531.6 457.2,533 C460.1,534.4 463.4,535.7 465.9,536.2 C468.4,536.7 469.8,536.9 472.3,536.2 C474.8,535.5 478.1,533.5 481,531.9 C483.9,530.3 486.7,528.3 489.6,526.5 C492.5,524.7 495.3,523.6 498.2,521.1 C501.1,518.6 504,514.3 506.8,511.4 C509.6,508.5 512.7,505 515,503.9 C517.3,502.8 518.6,504.8 520.6,505 C522.6,505.2 524.6,503.8 527.1,505 C529.6,506.2 532.8,509.4 535.7,512.5 C538.6,515.5 541.4,519.7 544.3,523.3 C547.2,526.9 550,531.7 552.9,534 C555.8,536.3 558.7,536.6 561.6,537.3 C564.5,538 567.3,537.5 570.2,538.4 C573.1,539.3 576,540.9 578.8,542.7 C581.6,544.5 584.7,547.7 587,549.1 C589.3,550.5 590.2,550.6 592.6,551.3 C595,551.9 598.7,553.1 601.2,553 C603.7,552.9 605.2,553 607.7,550.9 C610.2,548.8 613.4,543.7 616.3,540.5 C619.2,537.3 622.1,534.6 625,531.9 C627.9,529.2 630.7,526.9 633.6,524.4 C636.5,521.9 639.3,519.3 642.2,516.8 C645.1,514.3 648,511.8 650.8,509.3 C653.6,506.8 656.7,503.7 659,501.7 C661.3,499.7 662.2,499 664.6,497.4 C667,495.8 670.3,493.1 673.2,492 C676.1,490.9 679,490.3 681.9,491 C684.8,491.7 687.6,494.5 690.5,496.3 C693.4,498.1 696.2,499.5 699.1,501.7 C702,503.9 704.8,506.8 707.7,509.3 C710.6,511.8 713.4,514.3 716.3,516.8 C719.2,519.3 722.5,522.4 725,524.4 C727.5,526.4 729.4,527.6 731,528.7 C732.6,529.8 732.5,531.7 734.5,530.8 C736.5,529.9 740.2,526.3 743.1,523.3 C746,520.2 748.8,516.8 751.7,512.5 C754.6,508.2 757.4,501.2 760.3,497.4 C763.2,493.6 766.1,491.3 769,489.9 C771.9,488.5 774.7,488.3 777.6,488.8 C780.5,489.3 783.7,491 786.2,493.1 C788.7,495.2 790.6,498.1 792.7,501.7 C794.9,505.3 797.4,511.1 799.1,514.7 C800.8,518.3 801.4,520.8 803,523.3 C804.6,525.8 806.2,528.1 808.6,529.7 C811,531.3 814.3,533.4 817.2,533 C820.1,532.6 823,530.6 825.9,527.6 C828.8,524.6 831.6,519.7 834.5,514.7 C837.4,509.7 840.2,501.9 843.1,497.4 C846,492.9 848.8,489.8 851.7,487.7 C854.6,485.6 857.8,484.7 860.3,484.5 C862.8,484.3 864.3,485 866.8,486.6 C869.2,488.2 873,492 875,494.2 C877,496.4 876.5,497.8 878.5,499.6 C880.5,501.4 884.2,504.8 887.1,505 C890,505.2 892.8,501.9 895.7,500.6 C898.6,499.3 901.4,498.5 904.3,497.4 C907.2,496.3 910.1,493.3 913,494.2 C915.9,495.1 918.7,499.8 921.6,502.8 C924.5,505.9 927.3,508.7 930.2,512.5 C933.1,516.3 936,520.7 938.8,525.4 C941.6,530.1 944.7,537.1 947,540.5 C949.3,543.9 950.2,544.5 952.6,545.9 C955,547.3 958.3,548.6 961.2,549.1 C964.1,549.6 967,549.3 969.9,549.1 C972.8,548.9 975.6,548.8 978.5,548.1 C981.4,547.4 984.2,545 987.1,544.8 C990,544.6 992.8,546.1 995.7,547 C998.6,547.9 1001.4,549.1 1004.3,550.2 C1007.2,551.3 1010.5,552.3 1013,553.4 C1015.5,554.5 1017.4,555.8 1019,556.7 C1020.6,557.6 1020.9,558.2 1022.5,558.8 C1024.2,559.4 1026.4,561.2 1028.9,560.3 C1031.4,559.4 1034.7,556 1037.6,553.4 C1040.5,550.8 1043.3,547.5 1046.2,544.8 C1049.1,542.1 1052.1,539.3 1054.8,537.3 C1057.5,535.3 1060.1,533.4 1062.3,533 C1064.5,532.6 1066.1,534.5 1067.7,535.1 C1069.3,535.7 1070.6,536.3 1072,536.6 C1073.4,536.9 1075.6,536.9 1076.3,536.9" fill="none" stroke="#efe09c" stroke-width="1.35"/><polyline points="10.2,521 11.9,512.5 14.5,511.4 16.6,508.2 19.9,508.2 22,503.9 25.2,488.8 28.5,485.6 31.7,473.7 35,467.2 37.1,458.2 40.3,465 43.6,475.9 46.8,493.1 50,512.5 53.3,519 55.4,525.4 58.6,512.5 61.9,506 65.1,530.8 67.9,523.3 70.5,527.6 73.7,536.2 77,543.8 80.2,538.4 83.9,529.7 87.5,536.2 91.9,544.8 95.1,541.6 98.3,543.8 102.6,535.1 105.9,528.7 109.1,531.9 112.3,526.5 116.6,535.1 119.9,555.6 123.1,561 126.3,551.3 131.1,524.4 135,538.4 137.1,549.1 139.9,540.5 143.6,552.4 146.8,559.9 150,563.1 152.8,552.4 154.6,552.4 158.5,555.6 161.7,566.4 164.9,570.7 168.2,569.6 170.3,567.5 173.6,575 176.8,585.8 179,590 186.5,590 188.6,575 190.8,573.9 193,579.3 195.1,590 197.7,590 201.6,566.4 204.8,549.1 207.6,543.8 209.8,542.7 213.9,526.5 217.7,549.1 220.5,554.5 223.8,539.4 226.6,547 229.4,550.2 233.7,544.8 236.9,526.5 239.5,542.7 242.3,548.1 245.6,544.8 248.1,545.9 250.3,535.1 254.2,538.4 256.8,536.2 258.9,523.3 261.1,496.3 265,507.1 268.2,513.6 270.3,516.8 273.1,526.5 275.7,525.4 278.3,511.4 281.1,487.7 284.3,502.8 287.6,500.6 291.2,493.1 294.7,488.8 296.8,496.3 298.2,496.3 302.5,485.6 305.7,481.3 308.5,475.9 311.1,476.9 313.7,491 316.5,483.4 319.7,497.4 322.9,508.2 325.7,511.4 327.9,508.2 330.9,514.7 334.8,513.6 338,508.2 341.7,484.5 344.5,497.4 347.3,507.1 349.9,497.4 353.1,513.6 356.3,507.1 360.2,503.9 363.9,494.2 366.7,503.9 370.2,507.1 371.9,526.5 374.5,519 377.7,514.7 382.7,507.1 385.7,513.6 391.3,506 396,512.5 399.9,531.9 403.6,521.1 406.8,517.9 411.1,519 413.7,523.3 417.1,514.7 419.7,519 424,519 429.4,525.4 432.7,510.3 435.2,527.6 438.7,555.6 440.8,550.2 443.2,535.1 445.4,533 448.6,535.1 452.9,533 457.7,545.9 461.6,536.2 465.9,537.3 469.1,529.7 472.3,524.4 475.6,517.9 478.8,516.8 481,511.4 483.1,511.4 485.7,520 488.7,531.9 492.8,513.6 498.2,501.7 501.4,486.6 504.7,475.4 507.9,490.9 510.7,496.3 514.2,497.4 516.3,512.5 519.5,519 524.9,521.1 526.7,505 529.7,536.2 532.9,549.1 536.1,541.6 541.1,538.4 546.5,544.8 549.7,556.7 554,528.7 560.5,531.9 565.9,520 568.5,550.2 571.3,548.1 574.5,564.2 579.2,567.5 582.7,558.8 586.2,562.1 587.9,571.8 590.9,573.9 593.7,547 596.9,541.6 599.1,530.8 601.7,535.1 604.9,519 608.1,533 610.9,525.4 615.3,522.2 618.9,518.5 622.8,533 627.1,525.4 629.7,526.5 632.5,519 635.7,506 637.9,492 641.1,496.3 644.3,491 648.7,489.9 651.9,488.4 654.7,495.3 659.9,481.3 662.5,484.5 665.7,506 668.9,498.5 671.5,494.2 674.3,484.5 676.5,496.3 680.1,493.1 682.9,494.2 685.1,516.8 690.5,511.4 693.7,498.5 698.7,529.7 702.3,524.4 706.6,523.3 709.9,535.1 713.1,540.5 716.3,529.7 718.9,528.7 721.1,542.7 724.5,538.4 728.2,536.2 730.2,531.9 733.4,510.3 737.7,502.8 740.9,493.1 745.7,501.7 749.6,482.3 752.1,474.8 754.9,468.3 757.7,473.7 762.5,469.4 767.2,500.6 770.7,497.4 774.3,505 777.6,506 779.3,520 783,517.9 786.2,521.1 788.3,525.4 791,521.1 793.1,549.1 795.9,533 799.1,538.4 802.6,553.4 805.4,538.4 808.6,536.2 812.9,535.1 815.5,512.5 817.7,520 820.5,514.7 823.7,498.5 828,487.7 832.3,478 834.9,478 837.7,465.5 840.5,471.6 843.1,464.7 846.3,482.3 851.3,496.3 853.9,497.4 857.1,501.7 862.5,493.1 866.8,514.7 870,516.8 873.7,524.4 876.3,509.3 879.5,509.3 881.7,495.3 884.9,507.1 889.2,489.9 893.6,483.4 896.1,480.2 898.9,475.4 901.1,495.3 903.9,485.6 906.9,495.3 910.4,495.3 912.5,512.5 915.1,516.8 918.3,537.3 922.6,540.5 924.2,543.8 926.3,540.5 931.3,545.9 936.7,545.9 939.9,543.8 943.1,556.7 947.9,542.7 950.5,552.4 953.7,553.4 956.9,562.1 960.2,549.1 963,551.3 967.7,536.2 972.4,555.6 976.3,551.3 981.7,523.3 983.9,548.1 986.7,530.8 992.5,544.8 996.8,559.9 1002.6,571.1 1007.6,558.8 1011.9,562.1 1017.3,573.9 1018.2,574.6 1021.4,564.2 1023.5,563.1 1026.3,542.7 1028.9,540.9 1032.2,533 1034.3,543.8 1038.6,536.2 1042.9,524.4 1045.7,527.2 1048.3,524.4 1050.9,521.1 1054.4,525.4 1059.1,549.1 1061.7,535.1 1065.1,529.7 1069.9,557.8 1072.5,547 1075.9,544.5" fill="none" stroke="#7563b0" stroke-width="1.05" stroke-linejoin="round"/></g><text y="470" font-size="11.8" fill="#131722" stroke="#131722" stroke-width="0.22"><tspan x="17.4" textLength="142.6" lengthAdjust="spacingAndGlyphs">RSI (14, close, SMA, 14, 2)</tspan><tspan x="167.7" fill="#7a68aa" textLength="28.3" lengthAdjust="spacingAndGlyphs" stroke="#7a68aa" stroke-width="0.22">41.72</tspan><tspan x="203.5" fill="#e8d878" textLength="28.2" lengthAdjust="spacingAndGlyphs" stroke="#e8d878" stroke-width="0.22">45.01</tspan></text><g transform="translate(245.1,465.5)" stroke="#131722" stroke-width="1.1" fill="none"><circle r="3.6"/><line x1="-4.6" y1="4.6" x2="4.6" y2="-4.6"/></g><g transform="translate(264.5,465.5)" stroke="#131722" stroke-width="1.1" fill="none"><circle r="3.6"/><line x1="-4.6" y1="4.6" x2="4.6" y2="-4.6"/></g><g transform="translate(283.8,465.5)" stroke="#131722" stroke-width="1.1" fill="none"><circle r="3.6"/><line x1="-4.6" y1="4.6" x2="4.6" y2="-4.6"/></g><g transform="translate(303.2,465.5)" stroke="#131722" stroke-width="1.1" fill="none"><circle r="3.6"/><line x1="-4.6" y1="4.6" x2="4.6" y2="-4.6"/></g><g transform="translate(322.5,465.5)" stroke="#131722" stroke-width="1.1" fill="none"><circle r="3.6"/><line x1="-4.6" y1="4.6" x2="4.6" y2="-4.6"/></g><g transform="translate(341.9,465.5)" stroke="#131722" stroke-width="1.1" fill="none"><circle r="3.6"/><line x1="-4.6" y1="4.6" x2="4.6" y2="-4.6"/></g><text x="1114.6" y="460.9" font-size="12.4" fill="#131722" textLength="27.5" lengthAdjust="spacingAndGlyphs" stroke="#131722" stroke-width="0.22">80.00</text><text x="1114.6" y="507" font-size="12.4" fill="#131722" textLength="27.5" lengthAdjust="spacingAndGlyphs" stroke="#131722" stroke-width="0.22">60.00</text><rect x="1106" y="503.5" width="50" height="14" fill="#fff"/><text x="1114.3" y="515.4" font-size="12.4" fill="#131722" textLength="27.5" lengthAdjust="spacingAndGlyphs" stroke="#131722" stroke-width="0.22">51.64</text><rect x="1106" y="519.2" width="40.5" height="16.2" rx="2" fill="#f9e04b"/><text x="1114.3" y="531.8" font-size="12.4" fill="#131722" textLength="27.7" lengthAdjust="spacingAndGlyphs" stroke="#131722" stroke-width="0.22">45.01</text><rect x="1106" y="536.2" width="40.5" height="16.1" rx="2" fill="#7e57c2"/><text x="1114.3" y="548.8" font-size="12.4" fill="#fff" textLength="27.7" lengthAdjust="spacingAndGlyphs" stroke="#fff" stroke-width="0.22">41.72</text><text x="1114.3" y="579.9" font-size="12.4" fill="#131722" textLength="27.7" lengthAdjust="spacingAndGlyphs" stroke="#131722" stroke-width="0.22">28.30</text><line x1="1099" y1="525.4" x2="1104" y2="525.4" stroke="#787b86"/><line x1="1099" y1="571.5" x2="1104" y2="571.5" stroke="#787b86"/><clipPath id="ct"><rect x="11" y="587" width="1094" height="27"/></clipPath><g clip-path="url(#ct)"><text x="63.5" y="605.2" font-size="12.4" fill="#131722" textLength="20" lengthAdjust="spacingAndGlyphs" stroke="#131722" stroke-width="0.22">Aug</text><text x="185.5" y="605.2" font-size="12.4" fill="#131722" textLength="20" lengthAdjust="spacingAndGlyphs" stroke="#131722" stroke-width="0.22">Oct</text><text x="272.5" y="605.2" font-size="12.4" fill="#131722" textLength="12" lengthAdjust="spacingAndGlyphs" stroke="#131722" stroke-width="0.22">13</text><text x="359" y="605.2" font-size="12.4" font-weight="bold" fill="#131722" textLength="27" lengthAdjust="spacingAndGlyphs">2024</text><text x="481" y="605.2" font-size="12.4" fill="#131722" textLength="21" lengthAdjust="spacingAndGlyphs" stroke="#131722" stroke-width="0.22">Mar</text><text x="600" y="605.2" font-size="12.4" fill="#131722" textLength="22" lengthAdjust="spacingAndGlyphs" stroke="#131722" stroke-width="0.22">May</text><text x="722.2" y="605.2" font-size="12.4" fill="#131722" textLength="16.6" lengthAdjust="spacingAndGlyphs" stroke="#131722" stroke-width="0.22">Jul</text><text x="844.2" y="605.2" font-size="12.4" fill="#131722" textLength="20.5" lengthAdjust="spacingAndGlyphs" stroke="#131722" stroke-width="0.22">Sep</text><text x="966.1" y="605.2" font-size="12.4" fill="#131722" textLength="21.7" lengthAdjust="spacingAndGlyphs" stroke="#131722" stroke-width="0.22">Nov</text><text x="1082" y="605.2" font-size="12.4" font-weight="bold" fill="#131722" textLength="27" lengthAdjust="spacingAndGlyphs">2025</text></g><g fill="#131722"><path d="M10.1 627.2 H18.2 V636.7 H14 V630.6 H10.1 Z"/><circle cx="21.3" cy="628.7" r="1.5"/><path d="M24.4 627.2 H28.9 L25.9 636.7 H21.4 Z"/></g><text x="33" y="636.3" font-size="12.6" fill="#131722" textLength="71" lengthAdjust="spacingAndGlyphs" stroke="#131722" stroke-width="0.22">TradingView</text></svg></body></html>
